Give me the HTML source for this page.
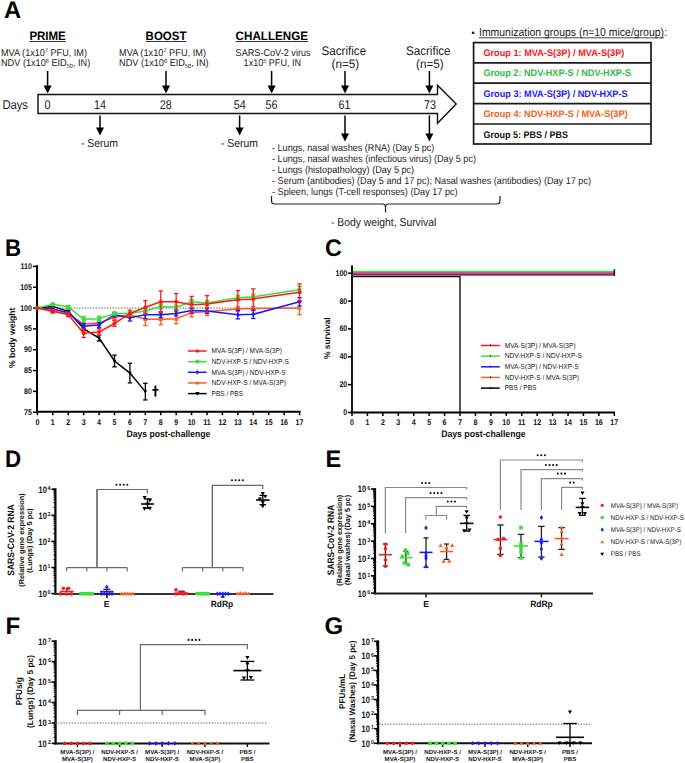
<!DOCTYPE html>
<html><head><meta charset="utf-8"><style>
html,body{margin:0;padding:0;background:#fff;}
svg{display:block;font-family:"Liberation Sans",sans-serif;text-rendering:geometricPrecision;}
</style></head><body>
<svg width="685" height="763" viewBox="0 0 685 763">
<rect width="685" height="763" fill="#fff"/>
<text x="0" y="0" transform="translate(3.9,17.7) scale(0.99,1)" font-size="24.00" font-weight="bold" text-anchor="start" fill="#000" >A</text>
<text x="29.4" y="40" font-size="12.19" font-weight="bold" text-anchor="start" fill="#000" textLength="36.3" lengthAdjust="spacingAndGlyphs" >PRIME</text>
<line x1="29.4" y1="41.5" x2="65.69999999999999" y2="41.5" stroke="#333" stroke-width="1.0" />
<text x="145.6" y="40" font-size="12.19" font-weight="bold" text-anchor="start" fill="#000" textLength="40.8" lengthAdjust="spacingAndGlyphs" >BOOST</text>
<line x1="145.6" y1="41.5" x2="186.39999999999998" y2="41.5" stroke="#333" stroke-width="1.0" />
<text x="235.6" y="40" font-size="12.19" font-weight="bold" text-anchor="start" fill="#000" textLength="72.4" lengthAdjust="spacingAndGlyphs" >CHALLENGE</text>
<line x1="235.6" y1="41.5" x2="308.0" y2="41.5" stroke="#333" stroke-width="1.0" />
<text x="1" y="55.6" font-size="9.90" text-anchor="start" fill="#222" textLength="86" lengthAdjust="spacingAndGlyphs" >MVA (1x10<tspan font-size="6" dy="-3.2">7</tspan><tspan dy="3.2"> PFU, IM)</tspan></text>
<text x="1" y="66" font-size="9.90" text-anchor="start" fill="#222" textLength="89.2" lengthAdjust="spacingAndGlyphs" >NDV (1x10<tspan font-size="6" dy="-3.2">6</tspan><tspan dy="3.2"> EID<tspan font-size="6" dy="2">50</tspan><tspan dy="-2">, IN)</tspan></text>
<text x="119" y="55.6" font-size="9.90" text-anchor="start" fill="#222" textLength="87" lengthAdjust="spacingAndGlyphs" >MVA (1x10<tspan font-size="6" dy="-3.2">7</tspan><tspan dy="3.2"> PFU, IM)</tspan></text>
<text x="119" y="66" font-size="9.90" text-anchor="start" fill="#222" textLength="89.6" lengthAdjust="spacingAndGlyphs" >NDV (1x10<tspan font-size="6" dy="-3.2">6</tspan><tspan dy="3.2"> EID<tspan font-size="6" dy="2">50</tspan><tspan dy="-2">, IN)</tspan></text>
<text x="235.6" y="55.6" font-size="9.90" text-anchor="start" fill="#222" textLength="75" lengthAdjust="spacingAndGlyphs" >SARS-CoV-2 virus</text>
<text x="243.6" y="66" font-size="9.90" text-anchor="start" fill="#222" textLength="57.4" lengthAdjust="spacingAndGlyphs" >1x10<tspan font-size="6" dy="-3.2">5</tspan><tspan dy="3.2"> PFU, IN</tspan></text>
<text x="321.6" y="55" font-size="12.54" text-anchor="start" fill="#222" textLength="44.5" lengthAdjust="spacingAndGlyphs" >Sacrifice</text>
<text x="331.6" y="68.2" font-size="12.32" text-anchor="start" fill="#222" textLength="27.6" lengthAdjust="spacingAndGlyphs" >(n=5)</text>
<text x="406" y="55" font-size="12.54" text-anchor="start" fill="#222" textLength="44.5" lengthAdjust="spacingAndGlyphs" >Sacrifice</text>
<text x="416" y="68.2" font-size="12.32" text-anchor="start" fill="#222" textLength="27.6" lengthAdjust="spacingAndGlyphs" >(n=5)</text>
<line x1="47.6" y1="71" x2="47.6" y2="86.5" stroke="#000" stroke-width="1.5" />
<polygon points="43.6,85.5 51.6,85.5 47.6,93.5" fill="#000"/>
<line x1="166" y1="71" x2="166" y2="86.5" stroke="#000" stroke-width="1.5" />
<polygon points="162,85.5 170,85.5 166,93.5" fill="#000"/>
<line x1="271.6" y1="71" x2="271.6" y2="86.5" stroke="#000" stroke-width="1.5" />
<polygon points="267.6,85.5 275.6,85.5 271.6,93.5" fill="#000"/>
<line x1="345" y1="71" x2="345" y2="86.5" stroke="#000" stroke-width="1.5" />
<polygon points="341,85.5 349,85.5 345,93.5" fill="#000"/>
<line x1="429.4" y1="71" x2="429.4" y2="86.5" stroke="#000" stroke-width="1.5" />
<polygon points="425.4,85.5 433.4,85.5 429.4,93.5" fill="#000"/>
<path d="M38,94.5 L437.5,94.5 L437.5,85.2 L456.2,104.1 L437.5,123.2 L437.5,113.4 L38,113.4 Z" fill="#fff" stroke="#111" stroke-width="1.45" stroke-linejoin="miter"/>
<text x="2.4" y="109.2" font-size="12.66" text-anchor="start" fill="#222" textLength="25.6" lengthAdjust="spacingAndGlyphs" >Days</text>
<text x="47.4" y="108.9" font-size="12.64" text-anchor="middle" fill="#222" textLength="6.01" lengthAdjust="spacingAndGlyphs" >0</text>
<text x="100" y="108.9" font-size="12.64" text-anchor="middle" fill="#222" textLength="12.01" lengthAdjust="spacingAndGlyphs" >14</text>
<text x="165.7" y="108.9" font-size="12.64" text-anchor="middle" fill="#222" textLength="12.01" lengthAdjust="spacingAndGlyphs" >28</text>
<text x="239.8" y="108.9" font-size="12.64" text-anchor="middle" fill="#222" textLength="12.01" lengthAdjust="spacingAndGlyphs" >54</text>
<text x="271.5" y="108.9" font-size="12.64" text-anchor="middle" fill="#222" textLength="12.01" lengthAdjust="spacingAndGlyphs" >56</text>
<text x="344.5" y="108.9" font-size="12.64" text-anchor="middle" fill="#222" textLength="12.01" lengthAdjust="spacingAndGlyphs" >61</text>
<text x="430" y="108.9" font-size="12.64" text-anchor="middle" fill="#222" textLength="12.01" lengthAdjust="spacingAndGlyphs" >73</text>
<line x1="100" y1="115.5" x2="100" y2="128.6" stroke="#000" stroke-width="1.5" />
<polygon points="96,127.6 104,127.6 100,135.6" fill="#000"/>
<line x1="239.6" y1="115.5" x2="239.6" y2="128.6" stroke="#000" stroke-width="1.5" />
<polygon points="235.6,127.6 243.6,127.6 239.6,135.6" fill="#000"/>
<line x1="345" y1="115.5" x2="345" y2="134.6" stroke="#000" stroke-width="1.5" />
<polygon points="341,133.6 349,133.6 345,141.6" fill="#000"/>
<line x1="429.4" y1="115.5" x2="429.4" y2="134.6" stroke="#000" stroke-width="1.5" />
<polygon points="425.4,133.6 433.4,133.6 429.4,141.6" fill="#000"/>
<text x="81" y="147.2" font-size="11.44" text-anchor="start" fill="#222" textLength="37" lengthAdjust="spacingAndGlyphs" >- Serum</text>
<text x="221" y="147.2" font-size="11.44" text-anchor="start" fill="#222" textLength="37" lengthAdjust="spacingAndGlyphs" >- Serum</text>
<text x="272" y="150.6" font-size="10.01" text-anchor="start" fill="#222" textLength="162.4" lengthAdjust="spacingAndGlyphs" >- Lungs, nasal washes (RNA) (Day 5 pc)</text>
<text x="272" y="161.6" font-size="10.01" text-anchor="start" fill="#222" textLength="204" lengthAdjust="spacingAndGlyphs" >- Lungs, nasal washes (infectious virus) (Day 5 pc)</text>
<text x="272" y="172.6" font-size="10.01" text-anchor="start" fill="#222" textLength="142.12" lengthAdjust="spacingAndGlyphs" >- Lungs (histopathology) (Day 5 pc)</text>
<text x="272" y="183.6" font-size="10.01" text-anchor="start" fill="#222" textLength="319" lengthAdjust="spacingAndGlyphs" >- Serum (antibodies) (Day 5 and 17 pc); Nasal washes (antibodies) (Day 17 pc)</text>
<text x="272" y="194.6" font-size="10.01" text-anchor="start" fill="#222" textLength="185.6" lengthAdjust="spacingAndGlyphs" >- Spleen, lungs (T-cell responses) (Day 17 pc)</text>
<path d="M271.5,196 L271.5,201 Q271.5,204 274.5,204 L382.5,204 Q385.5,204 385.5,207 L385.5,212.5 M385.5,207 Q385.5,204 388.5,204 L497,204 Q500,204 500,201 L500,196" stroke="#222" stroke-width="1.2" fill="none" />
<text x="331" y="226.3" font-size="11.38" text-anchor="start" fill="#222" textLength="105.3" lengthAdjust="spacingAndGlyphs" >- Body weight, Survival</text>
<text x="471.5" y="36" font-size="9.90" text-anchor="start" fill="#000" textLength="3.15" lengthAdjust="spacingAndGlyphs" >&#8226;</text>
<text x="479" y="36" font-size="11.44" text-anchor="start" fill="#222" textLength="185" lengthAdjust="spacingAndGlyphs" >Immunization groups (n=10 mice/group)</text>
<text x="664.3" y="36" font-size="11.44" text-anchor="start" fill="#222" textLength="2.89" lengthAdjust="spacingAndGlyphs" >:</text>
<line x1="479" y1="37.8" x2="664" y2="37.8" stroke="#333" stroke-width="0.9" />
<rect x="473.6" y="42.6" width="177.4" height="101.4" fill="none" stroke="#1a1a1a" stroke-width="1.7"/>
<line x1="473.6" y1="62.8" x2="651" y2="62.8" stroke="#1a1a1a" stroke-width="1.7" />
<line x1="473.6" y1="83.2" x2="651" y2="83.2" stroke="#1a1a1a" stroke-width="1.7" />
<line x1="473.6" y1="103.6" x2="651" y2="103.6" stroke="#1a1a1a" stroke-width="1.7" />
<line x1="473.6" y1="124.0" x2="651" y2="124.0" stroke="#1a1a1a" stroke-width="1.7" />
<text x="483.4" y="56.0" font-size="9.65" font-weight="bold" text-anchor="start" fill="#ff1212" textLength="141" lengthAdjust="spacingAndGlyphs" >Group 1: MVA-S(3P) / MVA-S(3P)</text>
<text x="483.4" y="76.4" font-size="9.65" font-weight="bold" text-anchor="start" fill="#35b846" textLength="147.6" lengthAdjust="spacingAndGlyphs" >Group 2: NDV-HXP-S / NDV-HXP-S</text>
<text x="483.4" y="96.8" font-size="9.65" font-weight="bold" text-anchor="start" fill="#1c1cf2" textLength="144.2" lengthAdjust="spacingAndGlyphs" >Group 3: MVA-S(3P) / NDV-HXP-S</text>
<text x="483.4" y="117.19999999999999" font-size="9.65" font-weight="bold" text-anchor="start" fill="#f25f20" textLength="144.2" lengthAdjust="spacingAndGlyphs" >Group 4: NDV-HXP-S / MVA-S(3P)</text>
<text x="483.4" y="137.6" font-size="9.65" font-weight="bold" text-anchor="start" fill="#111" textLength="84.6" lengthAdjust="spacingAndGlyphs" >Group 5: PBS / PBS</text>
<text x="0" y="0" transform="translate(5.0,256) scale(0.93,1)" font-size="24.00" font-weight="bold" text-anchor="start" fill="#000" >B</text>
<line x1="37" y1="265.2" x2="37" y2="412.8" stroke="#000" stroke-width="2" />
<line x1="36" y1="411.8" x2="300.6" y2="411.8" stroke="#000" stroke-width="2" />
<line x1="33" y1="412.245" x2="37" y2="412.245" stroke="#000" stroke-width="1.5" />
<text x="32" y="414.745" font-size="8.24" font-weight="bold" text-anchor="end" fill="#111" textLength="7.9" lengthAdjust="spacingAndGlyphs" >75</text>
<line x1="33" y1="391.40999999999997" x2="37" y2="391.40999999999997" stroke="#000" stroke-width="1.5" />
<text x="32" y="393.90999999999997" font-size="8.24" font-weight="bold" text-anchor="end" fill="#111" textLength="7.9" lengthAdjust="spacingAndGlyphs" >80</text>
<line x1="33" y1="370.575" x2="37" y2="370.575" stroke="#000" stroke-width="1.5" />
<text x="32" y="373.075" font-size="8.24" font-weight="bold" text-anchor="end" fill="#111" textLength="7.9" lengthAdjust="spacingAndGlyphs" >85</text>
<line x1="33" y1="349.74" x2="37" y2="349.74" stroke="#000" stroke-width="1.5" />
<text x="32" y="352.24" font-size="8.24" font-weight="bold" text-anchor="end" fill="#111" textLength="7.9" lengthAdjust="spacingAndGlyphs" >90</text>
<line x1="33" y1="328.905" x2="37" y2="328.905" stroke="#000" stroke-width="1.5" />
<text x="32" y="331.405" font-size="8.24" font-weight="bold" text-anchor="end" fill="#111" textLength="7.9" lengthAdjust="spacingAndGlyphs" >95</text>
<line x1="33" y1="308.07" x2="37" y2="308.07" stroke="#000" stroke-width="1.5" />
<text x="32" y="310.57" font-size="8.24" font-weight="bold" text-anchor="end" fill="#111" textLength="11.84" lengthAdjust="spacingAndGlyphs" >100</text>
<line x1="33" y1="287.23499999999996" x2="37" y2="287.23499999999996" stroke="#000" stroke-width="1.5" />
<text x="32" y="289.73499999999996" font-size="8.24" font-weight="bold" text-anchor="end" fill="#111" textLength="11.84" lengthAdjust="spacingAndGlyphs" >105</text>
<line x1="33" y1="266.4" x2="37" y2="266.4" stroke="#000" stroke-width="1.5" />
<text x="32" y="268.9" font-size="8.24" font-weight="bold" text-anchor="end" fill="#111" textLength="11.45" lengthAdjust="spacingAndGlyphs" >110</text>
<line x1="37.4" y1="411.8" x2="37.4" y2="415.2" stroke="#000" stroke-width="1.5" />
<text x="37.4" y="424.8" font-size="8.24" font-weight="bold" text-anchor="middle" fill="#111" textLength="3.95" lengthAdjust="spacingAndGlyphs" >0</text>
<line x1="52.82" y1="411.8" x2="52.82" y2="415.2" stroke="#000" stroke-width="1.5" />
<text x="52.82" y="424.8" font-size="8.24" font-weight="bold" text-anchor="middle" fill="#111" textLength="3.95" lengthAdjust="spacingAndGlyphs" >1</text>
<line x1="68.24" y1="411.8" x2="68.24" y2="415.2" stroke="#000" stroke-width="1.5" />
<text x="68.24" y="424.8" font-size="8.24" font-weight="bold" text-anchor="middle" fill="#111" textLength="3.95" lengthAdjust="spacingAndGlyphs" >2</text>
<line x1="83.66" y1="411.8" x2="83.66" y2="415.2" stroke="#000" stroke-width="1.5" />
<text x="83.66" y="424.8" font-size="8.24" font-weight="bold" text-anchor="middle" fill="#111" textLength="3.95" lengthAdjust="spacingAndGlyphs" >3</text>
<line x1="99.08" y1="411.8" x2="99.08" y2="415.2" stroke="#000" stroke-width="1.5" />
<text x="99.08" y="424.8" font-size="8.24" font-weight="bold" text-anchor="middle" fill="#111" textLength="3.95" lengthAdjust="spacingAndGlyphs" >4</text>
<line x1="114.5" y1="411.8" x2="114.5" y2="415.2" stroke="#000" stroke-width="1.5" />
<text x="114.5" y="424.8" font-size="8.24" font-weight="bold" text-anchor="middle" fill="#111" textLength="3.95" lengthAdjust="spacingAndGlyphs" >5</text>
<line x1="129.92" y1="411.8" x2="129.92" y2="415.2" stroke="#000" stroke-width="1.5" />
<text x="129.92" y="424.8" font-size="8.24" font-weight="bold" text-anchor="middle" fill="#111" textLength="3.95" lengthAdjust="spacingAndGlyphs" >6</text>
<line x1="145.34" y1="411.8" x2="145.34" y2="415.2" stroke="#000" stroke-width="1.5" />
<text x="145.34" y="424.8" font-size="8.24" font-weight="bold" text-anchor="middle" fill="#111" textLength="3.95" lengthAdjust="spacingAndGlyphs" >7</text>
<line x1="160.76" y1="411.8" x2="160.76" y2="415.2" stroke="#000" stroke-width="1.5" />
<text x="160.76" y="424.8" font-size="8.24" font-weight="bold" text-anchor="middle" fill="#111" textLength="3.95" lengthAdjust="spacingAndGlyphs" >8</text>
<line x1="176.18" y1="411.8" x2="176.18" y2="415.2" stroke="#000" stroke-width="1.5" />
<text x="176.18" y="424.8" font-size="8.24" font-weight="bold" text-anchor="middle" fill="#111" textLength="3.95" lengthAdjust="spacingAndGlyphs" >9</text>
<line x1="191.6" y1="411.8" x2="191.6" y2="415.2" stroke="#000" stroke-width="1.5" />
<text x="191.6" y="424.8" font-size="8.24" font-weight="bold" text-anchor="middle" fill="#111" textLength="7.9" lengthAdjust="spacingAndGlyphs" >10</text>
<line x1="207.02" y1="411.8" x2="207.02" y2="415.2" stroke="#000" stroke-width="1.5" />
<text x="207.02" y="424.8" font-size="8.24" font-weight="bold" text-anchor="middle" fill="#111" textLength="7.5" lengthAdjust="spacingAndGlyphs" >11</text>
<line x1="222.44" y1="411.8" x2="222.44" y2="415.2" stroke="#000" stroke-width="1.5" />
<text x="222.44" y="424.8" font-size="8.24" font-weight="bold" text-anchor="middle" fill="#111" textLength="7.9" lengthAdjust="spacingAndGlyphs" >12</text>
<line x1="237.86" y1="411.8" x2="237.86" y2="415.2" stroke="#000" stroke-width="1.5" />
<text x="237.86" y="424.8" font-size="8.24" font-weight="bold" text-anchor="middle" fill="#111" textLength="7.9" lengthAdjust="spacingAndGlyphs" >13</text>
<line x1="253.28" y1="411.8" x2="253.28" y2="415.2" stroke="#000" stroke-width="1.5" />
<text x="253.28" y="424.8" font-size="8.24" font-weight="bold" text-anchor="middle" fill="#111" textLength="7.9" lengthAdjust="spacingAndGlyphs" >14</text>
<line x1="268.7" y1="411.8" x2="268.7" y2="415.2" stroke="#000" stroke-width="1.5" />
<text x="268.7" y="424.8" font-size="8.24" font-weight="bold" text-anchor="middle" fill="#111" textLength="7.9" lengthAdjust="spacingAndGlyphs" >15</text>
<line x1="284.12" y1="411.8" x2="284.12" y2="415.2" stroke="#000" stroke-width="1.5" />
<text x="284.12" y="424.8" font-size="8.24" font-weight="bold" text-anchor="middle" fill="#111" textLength="7.9" lengthAdjust="spacingAndGlyphs" >16</text>
<line x1="299.53999999999996" y1="411.8" x2="299.53999999999996" y2="415.2" stroke="#000" stroke-width="1.5" />
<text x="299.53999999999996" y="424.8" font-size="8.24" font-weight="bold" text-anchor="middle" fill="#111" textLength="7.9" lengthAdjust="spacingAndGlyphs" >17</text>
<text x="168.4" y="437.1" font-size="9.46" font-weight="bold" text-anchor="middle" fill="#111" textLength="84.0" lengthAdjust="spacingAndGlyphs" >Days post-challenge</text>
<text x="0" y="0" font-size="8.66" font-weight="bold" fill="#111" text-anchor="middle" transform="translate(14.6,337.8) rotate(-90)">% body weight</text>
<line x1="37" y1="308.07" x2="300" y2="308.07" stroke="#555" stroke-width="1" stroke-dasharray="1.3,1.5"/>
<polyline points="37.40,308.07 52.82,306.40 68.24,311.40 83.66,328.70 99.08,338.07 114.50,360.99 129.92,373.08 145.34,391.62" fill="none" stroke="#000" stroke-width="1.5"/>
<polygon points="37.40,309.97 39.30,306.77 35.50,306.77" fill="#000"/>
<line x1="52.82" y1="305.56979999999993" x2="52.82" y2="307.23659999999995" stroke="#000" stroke-width="1.3" />
<line x1="50.62" y1="305.56979999999993" x2="55.02" y2="305.56979999999993" stroke="#000" stroke-width="1.3" />
<line x1="50.62" y1="307.23659999999995" x2="55.02" y2="307.23659999999995" stroke="#000" stroke-width="1.3" />
<polygon points="52.82,308.30 54.72,305.10 50.92,305.10" fill="#000"/>
<line x1="68.24" y1="310.15349999999995" x2="68.24" y2="312.65369999999996" stroke="#000" stroke-width="1.3" />
<line x1="66.03999999999999" y1="310.15349999999995" x2="70.44" y2="310.15349999999995" stroke="#000" stroke-width="1.3" />
<line x1="66.03999999999999" y1="312.65369999999996" x2="70.44" y2="312.65369999999996" stroke="#000" stroke-width="1.3" />
<polygon points="68.24,313.30 70.14,310.10 66.34,310.10" fill="#000"/>
<line x1="83.66" y1="326.61314999999996" x2="83.66" y2="330.78015" stroke="#000" stroke-width="1.3" />
<line x1="81.46" y1="326.61314999999996" x2="85.86" y2="326.61314999999996" stroke="#000" stroke-width="1.3" />
<line x1="81.46" y1="330.78015" x2="85.86" y2="330.78015" stroke="#000" stroke-width="1.3" />
<polygon points="83.66,330.60 85.56,327.40 81.76,327.40" fill="#000"/>
<line x1="99.08" y1="335.15549999999996" x2="99.08" y2="340.9893" stroke="#000" stroke-width="1.3" />
<line x1="96.88" y1="335.15549999999996" x2="101.28" y2="335.15549999999996" stroke="#000" stroke-width="1.3" />
<line x1="96.88" y1="340.9893" x2="101.28" y2="340.9893" stroke="#000" stroke-width="1.3" />
<polygon points="99.08,339.97 100.98,336.77 97.18,336.77" fill="#000"/>
<line x1="114.5" y1="355.15709999999996" x2="114.5" y2="366.8247" stroke="#000" stroke-width="1.3" />
<line x1="112.3" y1="355.15709999999996" x2="116.7" y2="355.15709999999996" stroke="#000" stroke-width="1.3" />
<line x1="112.3" y1="366.8247" x2="116.7" y2="366.8247" stroke="#000" stroke-width="1.3" />
<polygon points="114.50,362.89 116.40,359.69 112.60,359.69" fill="#000"/>
<line x1="129.92" y1="363.28274999999996" x2="129.92" y2="382.8676499999999" stroke="#000" stroke-width="1.3" />
<line x1="127.71999999999998" y1="363.28274999999996" x2="132.11999999999998" y2="363.28274999999996" stroke="#000" stroke-width="1.3" />
<line x1="127.71999999999998" y1="382.8676499999999" x2="132.11999999999998" y2="382.8676499999999" stroke="#000" stroke-width="1.3" />
<polygon points="129.92,374.98 131.82,371.78 128.02,371.78" fill="#000"/>
<line x1="145.34" y1="383.28434999999996" x2="145.34" y2="399.95234999999997" stroke="#000" stroke-width="1.3" />
<line x1="143.14000000000001" y1="383.28434999999996" x2="147.54" y2="383.28434999999996" stroke="#000" stroke-width="1.3" />
<line x1="143.14000000000001" y1="399.95234999999997" x2="147.54" y2="399.95234999999997" stroke="#000" stroke-width="1.3" />
<polygon points="145.34,393.52 147.24,390.32 143.44,390.32" fill="#000"/>
<polyline points="37.40,308.07 52.82,311.82 68.24,313.49 83.66,324.11 99.08,323.07 114.50,317.24 129.92,314.74 145.34,319.32 160.76,319.32 176.18,318.70 191.60,312.65 207.02,311.40 237.86,308.90 253.28,308.49 299.54,308.07" fill="none" stroke="#f85e22" stroke-width="1.5"/>
<polygon points="37.40,305.77 39.70,309.77 35.10,309.77" fill="#f85e22"/>
<line x1="52.82" y1="310.5702" x2="52.82" y2="313.0704" stroke="#f85e22" stroke-width="1.3" />
<line x1="50.62" y1="310.5702" x2="55.02" y2="310.5702" stroke="#f85e22" stroke-width="1.3" />
<line x1="50.62" y1="313.0704" x2="55.02" y2="313.0704" stroke="#f85e22" stroke-width="1.3" />
<polygon points="52.82,309.52 55.12,313.52 50.52,313.52" fill="#f85e22"/>
<line x1="68.24" y1="311.8202999999999" x2="68.24" y2="315.15389999999996" stroke="#f85e22" stroke-width="1.3" />
<line x1="66.03999999999999" y1="311.8202999999999" x2="70.44" y2="311.8202999999999" stroke="#f85e22" stroke-width="1.3" />
<line x1="66.03999999999999" y1="315.15389999999996" x2="70.44" y2="315.15389999999996" stroke="#f85e22" stroke-width="1.3" />
<polygon points="68.24,311.19 70.54,315.19 65.94,315.19" fill="#f85e22"/>
<line x1="83.66" y1="322.02944999999994" x2="83.66" y2="326.19644999999997" stroke="#f85e22" stroke-width="1.3" />
<line x1="81.46" y1="322.02944999999994" x2="85.86" y2="322.02944999999994" stroke="#f85e22" stroke-width="1.3" />
<line x1="81.46" y1="326.19644999999997" x2="85.86" y2="326.19644999999997" stroke="#f85e22" stroke-width="1.3" />
<polygon points="83.66,321.81 85.96,325.81 81.36,325.81" fill="#f85e22"/>
<line x1="99.08" y1="320.98769999999996" x2="99.08" y2="325.15469999999993" stroke="#f85e22" stroke-width="1.3" />
<line x1="96.88" y1="320.98769999999996" x2="101.28" y2="320.98769999999996" stroke="#f85e22" stroke-width="1.3" />
<line x1="96.88" y1="325.15469999999993" x2="101.28" y2="325.15469999999993" stroke="#f85e22" stroke-width="1.3" />
<polygon points="99.08,320.77 101.38,324.77 96.78,324.77" fill="#f85e22"/>
<line x1="114.5" y1="315.15389999999996" x2="114.5" y2="319.3209" stroke="#f85e22" stroke-width="1.3" />
<line x1="112.3" y1="315.15389999999996" x2="116.7" y2="315.15389999999996" stroke="#f85e22" stroke-width="1.3" />
<line x1="112.3" y1="319.3209" x2="116.7" y2="319.3209" stroke="#f85e22" stroke-width="1.3" />
<polygon points="114.50,314.94 116.80,318.94 112.20,318.94" fill="#f85e22"/>
<line x1="129.92" y1="311.8202999999999" x2="129.92" y2="317.65409999999997" stroke="#f85e22" stroke-width="1.3" />
<line x1="127.71999999999998" y1="311.8202999999999" x2="132.11999999999998" y2="311.8202999999999" stroke="#f85e22" stroke-width="1.3" />
<line x1="127.71999999999998" y1="317.65409999999997" x2="132.11999999999998" y2="317.65409999999997" stroke="#f85e22" stroke-width="1.3" />
<polygon points="129.92,312.44 132.22,316.44 127.62,316.44" fill="#f85e22"/>
<line x1="145.34" y1="313.0704" x2="145.34" y2="325.5714" stroke="#f85e22" stroke-width="1.3" />
<line x1="143.14000000000001" y1="313.0704" x2="147.54" y2="313.0704" stroke="#f85e22" stroke-width="1.3" />
<line x1="143.14000000000001" y1="325.5714" x2="147.54" y2="325.5714" stroke="#f85e22" stroke-width="1.3" />
<polygon points="145.34,317.02 147.64,321.02 143.04,321.02" fill="#f85e22"/>
<line x1="160.76" y1="313.9038" x2="160.76" y2="324.73799999999994" stroke="#f85e22" stroke-width="1.3" />
<line x1="158.56" y1="313.9038" x2="162.95999999999998" y2="313.9038" stroke="#f85e22" stroke-width="1.3" />
<line x1="158.56" y1="324.73799999999994" x2="162.95999999999998" y2="324.73799999999994" stroke="#f85e22" stroke-width="1.3" />
<polygon points="160.76,317.02 163.06,321.02 158.46,321.02" fill="#f85e22"/>
<line x1="176.18" y1="313.69544999999994" x2="176.18" y2="323.69624999999996" stroke="#f85e22" stroke-width="1.3" />
<line x1="173.98000000000002" y1="313.69544999999994" x2="178.38" y2="313.69544999999994" stroke="#f85e22" stroke-width="1.3" />
<line x1="173.98000000000002" y1="323.69624999999996" x2="178.38" y2="323.69624999999996" stroke="#f85e22" stroke-width="1.3" />
<polygon points="176.18,316.40 178.48,320.40 173.88,320.40" fill="#f85e22"/>
<line x1="191.6" y1="308.4866999999999" x2="191.6" y2="316.82069999999993" stroke="#f85e22" stroke-width="1.3" />
<line x1="189.4" y1="308.4866999999999" x2="193.79999999999998" y2="308.4866999999999" stroke="#f85e22" stroke-width="1.3" />
<line x1="189.4" y1="316.82069999999993" x2="193.79999999999998" y2="316.82069999999993" stroke="#f85e22" stroke-width="1.3" />
<polygon points="191.60,310.35 193.90,314.35 189.30,314.35" fill="#f85e22"/>
<line x1="207.02" y1="307.23659999999995" x2="207.02" y2="315.57059999999996" stroke="#f85e22" stroke-width="1.3" />
<line x1="204.82000000000002" y1="307.23659999999995" x2="209.22" y2="307.23659999999995" stroke="#f85e22" stroke-width="1.3" />
<line x1="204.82000000000002" y1="315.57059999999996" x2="209.22" y2="315.57059999999996" stroke="#f85e22" stroke-width="1.3" />
<polygon points="207.02,309.10 209.32,313.10 204.72,313.10" fill="#f85e22"/>
<line x1="237.86" y1="306.81989999999996" x2="237.86" y2="310.9869" stroke="#f85e22" stroke-width="1.3" />
<line x1="235.66000000000003" y1="306.81989999999996" x2="240.06" y2="306.81989999999996" stroke="#f85e22" stroke-width="1.3" />
<line x1="235.66000000000003" y1="310.9869" x2="240.06" y2="310.9869" stroke="#f85e22" stroke-width="1.3" />
<polygon points="237.86,306.60 240.16,310.60 235.56,310.60" fill="#f85e22"/>
<line x1="253.28" y1="306.40319999999997" x2="253.28" y2="310.57019999999994" stroke="#f85e22" stroke-width="1.3" />
<line x1="251.08" y1="306.40319999999997" x2="255.48" y2="306.40319999999997" stroke="#f85e22" stroke-width="1.3" />
<line x1="251.08" y1="310.57019999999994" x2="255.48" y2="310.57019999999994" stroke="#f85e22" stroke-width="1.3" />
<polygon points="253.28,306.19 255.58,310.19 250.98,310.19" fill="#f85e22"/>
<line x1="299.53999999999996" y1="301.4028" x2="299.53999999999996" y2="314.7372" stroke="#f85e22" stroke-width="1.3" />
<line x1="297.34" y1="301.4028" x2="301.73999999999995" y2="301.4028" stroke="#f85e22" stroke-width="1.3" />
<line x1="297.34" y1="314.7372" x2="301.73999999999995" y2="314.7372" stroke="#f85e22" stroke-width="1.3" />
<polygon points="299.54,305.77 301.84,309.77 297.24,309.77" fill="#f85e22"/>
<polyline points="37.40,308.07 52.82,308.90 68.24,312.65 83.66,326.20 99.08,324.74 114.50,314.74 129.92,317.65 145.34,314.74 160.76,314.74 176.18,313.49 191.60,310.57 207.02,310.99 237.86,314.74 253.28,314.32 299.54,301.82" fill="none" stroke="#1a1aff" stroke-width="1.5"/>
<polygon points="37.40,305.57 39.40,308.07 37.40,310.57 35.40,308.07" fill="#1a1aff"/>
<line x1="52.82" y1="307.6533" x2="52.82" y2="310.15349999999995" stroke="#1a1aff" stroke-width="1.3" />
<line x1="50.62" y1="307.6533" x2="55.02" y2="307.6533" stroke="#1a1aff" stroke-width="1.3" />
<line x1="50.62" y1="310.15349999999995" x2="55.02" y2="310.15349999999995" stroke="#1a1aff" stroke-width="1.3" />
<polygon points="52.82,306.40 54.82,308.90 52.82,311.40 50.82,308.90" fill="#1a1aff"/>
<line x1="68.24" y1="310.98689999999993" x2="68.24" y2="314.3205" stroke="#1a1aff" stroke-width="1.3" />
<line x1="66.03999999999999" y1="310.98689999999993" x2="70.44" y2="310.98689999999993" stroke="#1a1aff" stroke-width="1.3" />
<line x1="66.03999999999999" y1="314.3205" x2="70.44" y2="314.3205" stroke="#1a1aff" stroke-width="1.3" />
<polygon points="68.24,310.15 70.24,312.65 68.24,315.15 66.24,312.65" fill="#1a1aff"/>
<line x1="83.66" y1="323.69624999999996" x2="83.66" y2="328.6966499999999" stroke="#1a1aff" stroke-width="1.3" />
<line x1="81.46" y1="323.69624999999996" x2="85.86" y2="323.69624999999996" stroke="#1a1aff" stroke-width="1.3" />
<line x1="81.46" y1="328.6966499999999" x2="85.86" y2="328.6966499999999" stroke="#1a1aff" stroke-width="1.3" />
<polygon points="83.66,323.70 85.66,326.20 83.66,328.70 81.66,326.20" fill="#1a1aff"/>
<line x1="99.08" y1="322.2378" x2="99.08" y2="327.23819999999995" stroke="#1a1aff" stroke-width="1.3" />
<line x1="96.88" y1="322.2378" x2="101.28" y2="322.2378" stroke="#1a1aff" stroke-width="1.3" />
<line x1="96.88" y1="327.23819999999995" x2="101.28" y2="327.23819999999995" stroke="#1a1aff" stroke-width="1.3" />
<polygon points="99.08,322.24 101.08,324.74 99.08,327.24 97.08,324.74" fill="#1a1aff"/>
<line x1="114.5" y1="312.65369999999996" x2="114.5" y2="316.82069999999993" stroke="#1a1aff" stroke-width="1.3" />
<line x1="112.3" y1="312.65369999999996" x2="116.7" y2="312.65369999999996" stroke="#1a1aff" stroke-width="1.3" />
<line x1="112.3" y1="316.82069999999993" x2="116.7" y2="316.82069999999993" stroke="#1a1aff" stroke-width="1.3" />
<polygon points="114.50,312.24 116.50,314.74 114.50,317.24 112.50,314.74" fill="#1a1aff"/>
<line x1="129.92" y1="314.3205" x2="129.92" y2="320.98769999999996" stroke="#1a1aff" stroke-width="1.3" />
<line x1="127.71999999999998" y1="314.3205" x2="132.11999999999998" y2="314.3205" stroke="#1a1aff" stroke-width="1.3" />
<line x1="127.71999999999998" y1="320.98769999999996" x2="132.11999999999998" y2="320.98769999999996" stroke="#1a1aff" stroke-width="1.3" />
<polygon points="129.92,315.15 131.92,317.65 129.92,320.15 127.92,317.65" fill="#1a1aff"/>
<line x1="145.34" y1="310.98689999999993" x2="145.34" y2="318.48749999999995" stroke="#1a1aff" stroke-width="1.3" />
<line x1="143.14000000000001" y1="310.98689999999993" x2="147.54" y2="310.98689999999993" stroke="#1a1aff" stroke-width="1.3" />
<line x1="143.14000000000001" y1="318.48749999999995" x2="147.54" y2="318.48749999999995" stroke="#1a1aff" stroke-width="1.3" />
<polygon points="145.34,312.24 147.34,314.74 145.34,317.24 143.34,314.74" fill="#1a1aff"/>
<line x1="160.76" y1="311.8202999999999" x2="160.76" y2="317.65409999999997" stroke="#1a1aff" stroke-width="1.3" />
<line x1="158.56" y1="311.8202999999999" x2="162.95999999999998" y2="311.8202999999999" stroke="#1a1aff" stroke-width="1.3" />
<line x1="158.56" y1="317.65409999999997" x2="162.95999999999998" y2="317.65409999999997" stroke="#1a1aff" stroke-width="1.3" />
<polygon points="160.76,312.24 162.76,314.74 160.76,317.24 158.76,314.74" fill="#1a1aff"/>
<line x1="176.18" y1="310.9869" x2="176.18" y2="315.98729999999995" stroke="#1a1aff" stroke-width="1.3" />
<line x1="173.98000000000002" y1="310.9869" x2="178.38" y2="310.9869" stroke="#1a1aff" stroke-width="1.3" />
<line x1="173.98000000000002" y1="315.98729999999995" x2="178.38" y2="315.98729999999995" stroke="#1a1aff" stroke-width="1.3" />
<polygon points="176.18,310.99 178.18,313.49 176.18,315.99 174.18,313.49" fill="#1a1aff"/>
<line x1="191.6" y1="308.07" x2="191.6" y2="313.07039999999995" stroke="#1a1aff" stroke-width="1.3" />
<line x1="189.4" y1="308.07" x2="193.79999999999998" y2="308.07" stroke="#1a1aff" stroke-width="1.3" />
<line x1="189.4" y1="313.07039999999995" x2="193.79999999999998" y2="313.07039999999995" stroke="#1a1aff" stroke-width="1.3" />
<polygon points="191.60,308.07 193.60,310.57 191.60,313.07 189.60,310.57" fill="#1a1aff"/>
<line x1="207.02" y1="308.48670000000004" x2="207.02" y2="313.48709999999994" stroke="#1a1aff" stroke-width="1.3" />
<line x1="204.82000000000002" y1="308.48670000000004" x2="209.22" y2="308.48670000000004" stroke="#1a1aff" stroke-width="1.3" />
<line x1="204.82000000000002" y1="313.48709999999994" x2="209.22" y2="313.48709999999994" stroke="#1a1aff" stroke-width="1.3" />
<polygon points="207.02,308.49 209.02,310.99 207.02,313.49 205.02,310.99" fill="#1a1aff"/>
<line x1="237.86" y1="310.57019999999994" x2="237.86" y2="318.90419999999995" stroke="#1a1aff" stroke-width="1.3" />
<line x1="235.66000000000003" y1="310.57019999999994" x2="240.06" y2="310.57019999999994" stroke="#1a1aff" stroke-width="1.3" />
<line x1="235.66000000000003" y1="318.90419999999995" x2="240.06" y2="318.90419999999995" stroke="#1a1aff" stroke-width="1.3" />
<polygon points="237.86,312.24 239.86,314.74 237.86,317.24 235.86,314.74" fill="#1a1aff"/>
<line x1="253.28" y1="310.15349999999995" x2="253.28" y2="318.48749999999995" stroke="#1a1aff" stroke-width="1.3" />
<line x1="251.08" y1="310.15349999999995" x2="255.48" y2="310.15349999999995" stroke="#1a1aff" stroke-width="1.3" />
<line x1="251.08" y1="318.48749999999995" x2="255.48" y2="318.48749999999995" stroke="#1a1aff" stroke-width="1.3" />
<polygon points="253.28,311.82 255.28,314.32 253.28,316.82 251.28,314.32" fill="#1a1aff"/>
<line x1="299.53999999999996" y1="297.6525" x2="299.53999999999996" y2="305.9865" stroke="#1a1aff" stroke-width="1.3" />
<line x1="297.34" y1="297.6525" x2="301.73999999999995" y2="297.6525" stroke="#1a1aff" stroke-width="1.3" />
<line x1="297.34" y1="305.9865" x2="301.73999999999995" y2="305.9865" stroke="#1a1aff" stroke-width="1.3" />
<polygon points="299.54,299.32 301.54,301.82 299.54,304.32 297.54,301.82" fill="#1a1aff"/>
<polyline points="37.40,308.07 52.82,304.32 68.24,306.82 83.66,319.32 99.08,318.70 114.50,313.49 129.92,313.49 145.34,310.99 160.76,306.61 176.18,307.24 191.60,301.82 207.02,303.07 237.86,297.65 253.28,296.82 299.54,289.74" fill="none" stroke="#3ddd3d" stroke-width="1.5"/>
<rect x="35.40" y="306.07" width="4.0" height="4.0" fill="#3ddd3d"/>
<line x1="52.82" y1="303.0696" x2="52.82" y2="305.56979999999993" stroke="#3ddd3d" stroke-width="1.3" />
<line x1="50.62" y1="303.0696" x2="55.02" y2="303.0696" stroke="#3ddd3d" stroke-width="1.3" />
<line x1="50.62" y1="305.56979999999993" x2="55.02" y2="305.56979999999993" stroke="#3ddd3d" stroke-width="1.3" />
<rect x="50.82" y="302.32" width="4.0" height="4.0" fill="#3ddd3d"/>
<line x1="68.24" y1="305.5698" x2="68.24" y2="308.07" stroke="#3ddd3d" stroke-width="1.3" />
<line x1="66.03999999999999" y1="305.5698" x2="70.44" y2="305.5698" stroke="#3ddd3d" stroke-width="1.3" />
<line x1="66.03999999999999" y1="308.07" x2="70.44" y2="308.07" stroke="#3ddd3d" stroke-width="1.3" />
<rect x="66.24" y="304.82" width="4.0" height="4.0" fill="#3ddd3d"/>
<line x1="83.66" y1="316.404" x2="83.66" y2="322.2378" stroke="#3ddd3d" stroke-width="1.3" />
<line x1="81.46" y1="316.404" x2="85.86" y2="316.404" stroke="#3ddd3d" stroke-width="1.3" />
<line x1="81.46" y1="322.2378" x2="85.86" y2="322.2378" stroke="#3ddd3d" stroke-width="1.3" />
<rect x="81.66" y="317.32" width="4.0" height="4.0" fill="#3ddd3d"/>
<line x1="99.08" y1="316.19565" x2="99.08" y2="321.19604999999996" stroke="#3ddd3d" stroke-width="1.3" />
<line x1="96.88" y1="316.19565" x2="101.28" y2="316.19565" stroke="#3ddd3d" stroke-width="1.3" />
<line x1="96.88" y1="321.19604999999996" x2="101.28" y2="321.19604999999996" stroke="#3ddd3d" stroke-width="1.3" />
<rect x="97.08" y="316.70" width="4.0" height="4.0" fill="#3ddd3d"/>
<line x1="114.5" y1="311.8202999999999" x2="114.5" y2="315.15389999999996" stroke="#3ddd3d" stroke-width="1.3" />
<line x1="112.3" y1="311.8202999999999" x2="116.7" y2="311.8202999999999" stroke="#3ddd3d" stroke-width="1.3" />
<line x1="112.3" y1="315.15389999999996" x2="116.7" y2="315.15389999999996" stroke="#3ddd3d" stroke-width="1.3" />
<rect x="112.50" y="311.49" width="4.0" height="4.0" fill="#3ddd3d"/>
<line x1="129.92" y1="311.4036" x2="129.92" y2="315.57059999999996" stroke="#3ddd3d" stroke-width="1.3" />
<line x1="127.71999999999998" y1="311.4036" x2="132.11999999999998" y2="311.4036" stroke="#3ddd3d" stroke-width="1.3" />
<line x1="127.71999999999998" y1="315.57059999999996" x2="132.11999999999998" y2="315.57059999999996" stroke="#3ddd3d" stroke-width="1.3" />
<rect x="127.92" y="311.49" width="4.0" height="4.0" fill="#3ddd3d"/>
<line x1="145.34" y1="308.48670000000004" x2="145.34" y2="313.48709999999994" stroke="#3ddd3d" stroke-width="1.3" />
<line x1="143.14000000000001" y1="308.48670000000004" x2="147.54" y2="308.48670000000004" stroke="#3ddd3d" stroke-width="1.3" />
<line x1="143.14000000000001" y1="313.48709999999994" x2="147.54" y2="313.48709999999994" stroke="#3ddd3d" stroke-width="1.3" />
<rect x="143.34" y="308.99" width="4.0" height="4.0" fill="#3ddd3d"/>
<line x1="160.76" y1="304.11135" x2="160.76" y2="309.11175" stroke="#3ddd3d" stroke-width="1.3" />
<line x1="158.56" y1="304.11135" x2="162.95999999999998" y2="304.11135" stroke="#3ddd3d" stroke-width="1.3" />
<line x1="158.56" y1="309.11175" x2="162.95999999999998" y2="309.11175" stroke="#3ddd3d" stroke-width="1.3" />
<rect x="158.76" y="304.61" width="4.0" height="4.0" fill="#3ddd3d"/>
<line x1="176.18" y1="305.1531" x2="176.18" y2="309.32009999999997" stroke="#3ddd3d" stroke-width="1.3" />
<line x1="173.98000000000002" y1="305.1531" x2="178.38" y2="305.1531" stroke="#3ddd3d" stroke-width="1.3" />
<line x1="173.98000000000002" y1="309.32009999999997" x2="178.38" y2="309.32009999999997" stroke="#3ddd3d" stroke-width="1.3" />
<rect x="174.18" y="305.24" width="4.0" height="4.0" fill="#3ddd3d"/>
<line x1="191.6" y1="299.3193" x2="191.6" y2="304.31969999999995" stroke="#3ddd3d" stroke-width="1.3" />
<line x1="189.4" y1="299.3193" x2="193.79999999999998" y2="299.3193" stroke="#3ddd3d" stroke-width="1.3" />
<line x1="189.4" y1="304.31969999999995" x2="193.79999999999998" y2="304.31969999999995" stroke="#3ddd3d" stroke-width="1.3" />
<rect x="189.60" y="299.82" width="4.0" height="4.0" fill="#3ddd3d"/>
<line x1="207.02" y1="300.5694" x2="207.02" y2="305.56979999999993" stroke="#3ddd3d" stroke-width="1.3" />
<line x1="204.82000000000002" y1="300.5694" x2="209.22" y2="300.5694" stroke="#3ddd3d" stroke-width="1.3" />
<line x1="204.82000000000002" y1="305.56979999999993" x2="209.22" y2="305.56979999999993" stroke="#3ddd3d" stroke-width="1.3" />
<rect x="205.02" y="301.07" width="4.0" height="4.0" fill="#3ddd3d"/>
<line x1="237.86" y1="295.1523" x2="237.86" y2="300.1527" stroke="#3ddd3d" stroke-width="1.3" />
<line x1="235.66000000000003" y1="295.1523" x2="240.06" y2="295.1523" stroke="#3ddd3d" stroke-width="1.3" />
<line x1="235.66000000000003" y1="300.1527" x2="240.06" y2="300.1527" stroke="#3ddd3d" stroke-width="1.3" />
<rect x="235.86" y="295.65" width="4.0" height="4.0" fill="#3ddd3d"/>
<line x1="253.28" y1="293.90219999999994" x2="253.28" y2="299.736" stroke="#3ddd3d" stroke-width="1.3" />
<line x1="251.08" y1="293.90219999999994" x2="255.48" y2="293.90219999999994" stroke="#3ddd3d" stroke-width="1.3" />
<line x1="251.08" y1="299.736" x2="255.48" y2="299.736" stroke="#3ddd3d" stroke-width="1.3" />
<rect x="251.28" y="294.82" width="4.0" height="4.0" fill="#3ddd3d"/>
<line x1="299.53999999999996" y1="286.4016" x2="299.53999999999996" y2="293.06879999999995" stroke="#3ddd3d" stroke-width="1.3" />
<line x1="297.34" y1="286.4016" x2="301.73999999999995" y2="286.4016" stroke="#3ddd3d" stroke-width="1.3" />
<line x1="297.34" y1="293.06879999999995" x2="301.73999999999995" y2="293.06879999999995" stroke="#3ddd3d" stroke-width="1.3" />
<rect x="297.54" y="287.74" width="4.0" height="4.0" fill="#3ddd3d"/>
<polyline points="37.40,308.07 52.82,310.99 68.24,314.74 83.66,333.28 99.08,332.03 114.50,323.49 129.92,313.49 145.34,307.24 160.76,301.82 176.18,301.82 191.60,304.74 207.02,303.90 237.86,299.74 253.28,298.90 299.54,292.24" fill="none" stroke="#ff1a1a" stroke-width="1.5"/>
<circle cx="37.40" cy="308.07" r="2.0" fill="#ff1a1a"/>
<line x1="52.82" y1="309.32009999999997" x2="52.82" y2="312.6537" stroke="#ff1a1a" stroke-width="1.3" />
<line x1="50.62" y1="309.32009999999997" x2="55.02" y2="309.32009999999997" stroke="#ff1a1a" stroke-width="1.3" />
<line x1="50.62" y1="312.6537" x2="55.02" y2="312.6537" stroke="#ff1a1a" stroke-width="1.3" />
<circle cx="52.82" cy="310.99" r="2.0" fill="#ff1a1a"/>
<line x1="68.24" y1="312.65369999999996" x2="68.24" y2="316.82069999999993" stroke="#ff1a1a" stroke-width="1.3" />
<line x1="66.03999999999999" y1="312.65369999999996" x2="70.44" y2="312.65369999999996" stroke="#ff1a1a" stroke-width="1.3" />
<line x1="66.03999999999999" y1="316.82069999999993" x2="70.44" y2="316.82069999999993" stroke="#ff1a1a" stroke-width="1.3" />
<circle cx="68.24" cy="314.74" r="2.0" fill="#ff1a1a"/>
<line x1="83.66" y1="329.11334999999997" x2="83.66" y2="337.44735" stroke="#ff1a1a" stroke-width="1.3" />
<line x1="81.46" y1="329.11334999999997" x2="85.86" y2="329.11334999999997" stroke="#ff1a1a" stroke-width="1.3" />
<line x1="81.46" y1="337.44735" x2="85.86" y2="337.44735" stroke="#ff1a1a" stroke-width="1.3" />
<circle cx="83.66" cy="333.28" r="2.0" fill="#ff1a1a"/>
<line x1="99.08" y1="328.69665" x2="99.08" y2="335.36384999999996" stroke="#ff1a1a" stroke-width="1.3" />
<line x1="96.88" y1="328.69665" x2="101.28" y2="328.69665" stroke="#ff1a1a" stroke-width="1.3" />
<line x1="96.88" y1="335.36384999999996" x2="101.28" y2="335.36384999999996" stroke="#ff1a1a" stroke-width="1.3" />
<circle cx="99.08" cy="332.03" r="2.0" fill="#ff1a1a"/>
<line x1="114.5" y1="320.57099999999997" x2="114.5" y2="326.4048" stroke="#ff1a1a" stroke-width="1.3" />
<line x1="112.3" y1="320.57099999999997" x2="116.7" y2="320.57099999999997" stroke="#ff1a1a" stroke-width="1.3" />
<line x1="112.3" y1="326.4048" x2="116.7" y2="326.4048" stroke="#ff1a1a" stroke-width="1.3" />
<circle cx="114.50" cy="323.49" r="2.0" fill="#ff1a1a"/>
<line x1="129.92" y1="310.15349999999995" x2="129.92" y2="316.82069999999993" stroke="#ff1a1a" stroke-width="1.3" />
<line x1="127.71999999999998" y1="310.15349999999995" x2="132.11999999999998" y2="310.15349999999995" stroke="#ff1a1a" stroke-width="1.3" />
<line x1="127.71999999999998" y1="316.82069999999993" x2="132.11999999999998" y2="316.82069999999993" stroke="#ff1a1a" stroke-width="1.3" />
<circle cx="129.92" cy="313.49" r="2.0" fill="#ff1a1a"/>
<line x1="145.34" y1="300.5694" x2="145.34" y2="313.90379999999993" stroke="#ff1a1a" stroke-width="1.3" />
<line x1="143.14000000000001" y1="300.5694" x2="147.54" y2="300.5694" stroke="#ff1a1a" stroke-width="1.3" />
<line x1="143.14000000000001" y1="313.90379999999993" x2="147.54" y2="313.90379999999993" stroke="#ff1a1a" stroke-width="1.3" />
<circle cx="145.34" cy="307.24" r="2.0" fill="#ff1a1a"/>
<line x1="160.76" y1="290.9853" x2="160.76" y2="312.65369999999996" stroke="#ff1a1a" stroke-width="1.3" />
<line x1="158.56" y1="290.9853" x2="162.95999999999998" y2="290.9853" stroke="#ff1a1a" stroke-width="1.3" />
<line x1="158.56" y1="312.65369999999996" x2="162.95999999999998" y2="312.65369999999996" stroke="#ff1a1a" stroke-width="1.3" />
<circle cx="160.76" cy="301.82" r="2.0" fill="#ff1a1a"/>
<line x1="176.18" y1="293.4855" x2="176.18" y2="310.15349999999995" stroke="#ff1a1a" stroke-width="1.3" />
<line x1="173.98000000000002" y1="293.4855" x2="178.38" y2="293.4855" stroke="#ff1a1a" stroke-width="1.3" />
<line x1="173.98000000000002" y1="310.15349999999995" x2="178.38" y2="310.15349999999995" stroke="#ff1a1a" stroke-width="1.3" />
<circle cx="176.18" cy="301.82" r="2.0" fill="#ff1a1a"/>
<line x1="191.6" y1="296.4024" x2="191.6" y2="313.0704" stroke="#ff1a1a" stroke-width="1.3" />
<line x1="189.4" y1="296.4024" x2="193.79999999999998" y2="296.4024" stroke="#ff1a1a" stroke-width="1.3" />
<line x1="189.4" y1="313.0704" x2="193.79999999999998" y2="313.0704" stroke="#ff1a1a" stroke-width="1.3" />
<circle cx="191.60" cy="304.74" r="2.0" fill="#ff1a1a"/>
<line x1="207.02" y1="295.56899999999996" x2="207.02" y2="312.23699999999997" stroke="#ff1a1a" stroke-width="1.3" />
<line x1="204.82000000000002" y1="295.56899999999996" x2="209.22" y2="295.56899999999996" stroke="#ff1a1a" stroke-width="1.3" />
<line x1="204.82000000000002" y1="312.23699999999997" x2="209.22" y2="312.23699999999997" stroke="#ff1a1a" stroke-width="1.3" />
<circle cx="207.02" cy="303.90" r="2.0" fill="#ff1a1a"/>
<line x1="237.86" y1="290.56859999999995" x2="237.86" y2="308.9034" stroke="#ff1a1a" stroke-width="1.3" />
<line x1="235.66000000000003" y1="290.56859999999995" x2="240.06" y2="290.56859999999995" stroke="#ff1a1a" stroke-width="1.3" />
<line x1="235.66000000000003" y1="308.9034" x2="240.06" y2="308.9034" stroke="#ff1a1a" stroke-width="1.3" />
<circle cx="237.86" cy="299.74" r="2.0" fill="#ff1a1a"/>
<line x1="253.28" y1="288.9017999999999" x2="253.28" y2="308.9034" stroke="#ff1a1a" stroke-width="1.3" />
<line x1="251.08" y1="288.9017999999999" x2="255.48" y2="288.9017999999999" stroke="#ff1a1a" stroke-width="1.3" />
<line x1="251.08" y1="308.9034" x2="255.48" y2="308.9034" stroke="#ff1a1a" stroke-width="1.3" />
<circle cx="253.28" cy="298.90" r="2.0" fill="#ff1a1a"/>
<line x1="299.53999999999996" y1="283.90139999999997" x2="299.53999999999996" y2="300.5694" stroke="#ff1a1a" stroke-width="1.3" />
<line x1="297.34" y1="283.90139999999997" x2="301.73999999999995" y2="283.90139999999997" stroke="#ff1a1a" stroke-width="1.3" />
<line x1="297.34" y1="300.5694" x2="301.73999999999995" y2="300.5694" stroke="#ff1a1a" stroke-width="1.3" />
<circle cx="299.54" cy="292.24" r="2.0" fill="#ff1a1a"/>
<line x1="155.4" y1="385.6" x2="155.4" y2="396.6" stroke="#000" stroke-width="1.9" />
<line x1="152.3" y1="389.9" x2="158.5" y2="389.9" stroke="#000" stroke-width="1.6" />
<line x1="188" y1="351.0" x2="206.6" y2="351.0" stroke="#ff1a1a" stroke-width="1.5" />
<circle cx="197.40" cy="351.00" r="1.8" fill="#ff1a1a"/>
<text x="211.6" y="353.3" font-size="7.15" text-anchor="start" fill="#222" textLength="70.4" lengthAdjust="spacingAndGlyphs" >MVA-S(3P) / MVA-S(3P)</text>
<line x1="188" y1="361.65" x2="206.6" y2="361.65" stroke="#3ddd3d" stroke-width="1.5" />
<rect x="195.60" y="359.85" width="3.6" height="3.6" fill="#3ddd3d"/>
<text x="211.6" y="363.95" font-size="7.15" text-anchor="start" fill="#222" textLength="77.4" lengthAdjust="spacingAndGlyphs" >NDV-HXP-S / NDV-HXP-S</text>
<line x1="188" y1="372.3" x2="206.6" y2="372.3" stroke="#1a1aff" stroke-width="1.5" />
<polygon points="197.40,370.00 199.20,372.30 197.40,374.60 195.60,372.30" fill="#1a1aff"/>
<text x="211.6" y="374.6" font-size="7.15" text-anchor="start" fill="#222" textLength="74" lengthAdjust="spacingAndGlyphs" >MVA-S(3P) / NDV-HXP-S</text>
<line x1="188" y1="382.95" x2="206.6" y2="382.95" stroke="#f85e22" stroke-width="1.5" />
<polygon points="197.40,380.85 199.50,384.45 195.30,384.45" fill="#f85e22"/>
<text x="211.6" y="385.25" font-size="7.15" text-anchor="start" fill="#222" textLength="74.4" lengthAdjust="spacingAndGlyphs" >NDV-HXP-S / MVA-S(3P)</text>
<line x1="188" y1="393.6" x2="206.6" y2="393.6" stroke="#000" stroke-width="1.5" />
<polygon points="197.40,395.70 199.50,392.10 195.30,392.10" fill="#000"/>
<text x="211.6" y="395.90000000000003" font-size="7.15" text-anchor="start" fill="#222" textLength="31.4" lengthAdjust="spacingAndGlyphs" >PBS / PBS</text>
<text x="0" y="0" transform="translate(325.0,256.3) scale(0.97,1)" font-size="24.00" font-weight="bold" text-anchor="start" fill="#000" >C</text>
<line x1="352" y1="265.2" x2="352" y2="413.5" stroke="#000" stroke-width="1.8" />
<line x1="351" y1="412.5" x2="615" y2="412.5" stroke="#000" stroke-width="2" />
<line x1="348" y1="412.5" x2="352" y2="412.5" stroke="#000" stroke-width="1.5" />
<text x="347.3" y="415.0" font-size="8.24" font-weight="bold" text-anchor="end" fill="#111" textLength="3.95" lengthAdjust="spacingAndGlyphs" >0</text>
<line x1="348" y1="384.65" x2="352" y2="384.65" stroke="#000" stroke-width="1.5" />
<text x="347.3" y="387.15" font-size="8.24" font-weight="bold" text-anchor="end" fill="#111" textLength="7.9" lengthAdjust="spacingAndGlyphs" >20</text>
<line x1="348" y1="356.8" x2="352" y2="356.8" stroke="#000" stroke-width="1.5" />
<text x="347.3" y="359.3" font-size="8.24" font-weight="bold" text-anchor="end" fill="#111" textLength="7.9" lengthAdjust="spacingAndGlyphs" >40</text>
<line x1="348" y1="328.95" x2="352" y2="328.95" stroke="#000" stroke-width="1.5" />
<text x="347.3" y="331.45" font-size="8.24" font-weight="bold" text-anchor="end" fill="#111" textLength="7.9" lengthAdjust="spacingAndGlyphs" >60</text>
<line x1="348" y1="301.1" x2="352" y2="301.1" stroke="#000" stroke-width="1.5" />
<text x="347.3" y="303.6" font-size="8.24" font-weight="bold" text-anchor="end" fill="#111" textLength="7.9" lengthAdjust="spacingAndGlyphs" >80</text>
<line x1="348" y1="273.25" x2="352" y2="273.25" stroke="#000" stroke-width="1.5" />
<text x="347.3" y="275.75" font-size="8.24" font-weight="bold" text-anchor="end" fill="#111" textLength="11.84" lengthAdjust="spacingAndGlyphs" >100</text>
<line x1="352.0" y1="412.5" x2="352.0" y2="416" stroke="#000" stroke-width="1.5" />
<text x="352.0" y="424.8" font-size="8.24" font-weight="bold" text-anchor="middle" fill="#111" textLength="3.95" lengthAdjust="spacingAndGlyphs" >0</text>
<line x1="367.43" y1="412.5" x2="367.43" y2="416" stroke="#000" stroke-width="1.5" />
<text x="367.43" y="424.8" font-size="8.24" font-weight="bold" text-anchor="middle" fill="#111" textLength="3.95" lengthAdjust="spacingAndGlyphs" >1</text>
<line x1="382.86" y1="412.5" x2="382.86" y2="416" stroke="#000" stroke-width="1.5" />
<text x="382.86" y="424.8" font-size="8.24" font-weight="bold" text-anchor="middle" fill="#111" textLength="3.95" lengthAdjust="spacingAndGlyphs" >2</text>
<line x1="398.29" y1="412.5" x2="398.29" y2="416" stroke="#000" stroke-width="1.5" />
<text x="398.29" y="424.8" font-size="8.24" font-weight="bold" text-anchor="middle" fill="#111" textLength="3.95" lengthAdjust="spacingAndGlyphs" >3</text>
<line x1="413.72" y1="412.5" x2="413.72" y2="416" stroke="#000" stroke-width="1.5" />
<text x="413.72" y="424.8" font-size="8.24" font-weight="bold" text-anchor="middle" fill="#111" textLength="3.95" lengthAdjust="spacingAndGlyphs" >4</text>
<line x1="429.15" y1="412.5" x2="429.15" y2="416" stroke="#000" stroke-width="1.5" />
<text x="429.15" y="424.8" font-size="8.24" font-weight="bold" text-anchor="middle" fill="#111" textLength="3.95" lengthAdjust="spacingAndGlyphs" >5</text>
<line x1="444.58" y1="412.5" x2="444.58" y2="416" stroke="#000" stroke-width="1.5" />
<text x="444.58" y="424.8" font-size="8.24" font-weight="bold" text-anchor="middle" fill="#111" textLength="3.95" lengthAdjust="spacingAndGlyphs" >6</text>
<line x1="460.01" y1="412.5" x2="460.01" y2="416" stroke="#000" stroke-width="1.5" />
<text x="460.01" y="424.8" font-size="8.24" font-weight="bold" text-anchor="middle" fill="#111" textLength="3.95" lengthAdjust="spacingAndGlyphs" >7</text>
<line x1="475.44" y1="412.5" x2="475.44" y2="416" stroke="#000" stroke-width="1.5" />
<text x="475.44" y="424.8" font-size="8.24" font-weight="bold" text-anchor="middle" fill="#111" textLength="3.95" lengthAdjust="spacingAndGlyphs" >8</text>
<line x1="490.87" y1="412.5" x2="490.87" y2="416" stroke="#000" stroke-width="1.5" />
<text x="490.87" y="424.8" font-size="8.24" font-weight="bold" text-anchor="middle" fill="#111" textLength="3.95" lengthAdjust="spacingAndGlyphs" >9</text>
<line x1="506.3" y1="412.5" x2="506.3" y2="416" stroke="#000" stroke-width="1.5" />
<text x="506.3" y="424.8" font-size="8.24" font-weight="bold" text-anchor="middle" fill="#111" textLength="7.9" lengthAdjust="spacingAndGlyphs" >10</text>
<line x1="521.73" y1="412.5" x2="521.73" y2="416" stroke="#000" stroke-width="1.5" />
<text x="521.73" y="424.8" font-size="8.24" font-weight="bold" text-anchor="middle" fill="#111" textLength="7.5" lengthAdjust="spacingAndGlyphs" >11</text>
<line x1="537.16" y1="412.5" x2="537.16" y2="416" stroke="#000" stroke-width="1.5" />
<text x="537.16" y="424.8" font-size="8.24" font-weight="bold" text-anchor="middle" fill="#111" textLength="7.9" lengthAdjust="spacingAndGlyphs" >12</text>
<line x1="552.59" y1="412.5" x2="552.59" y2="416" stroke="#000" stroke-width="1.5" />
<text x="552.59" y="424.8" font-size="8.24" font-weight="bold" text-anchor="middle" fill="#111" textLength="7.9" lengthAdjust="spacingAndGlyphs" >13</text>
<line x1="568.02" y1="412.5" x2="568.02" y2="416" stroke="#000" stroke-width="1.5" />
<text x="568.02" y="424.8" font-size="8.24" font-weight="bold" text-anchor="middle" fill="#111" textLength="7.9" lengthAdjust="spacingAndGlyphs" >14</text>
<line x1="583.45" y1="412.5" x2="583.45" y2="416" stroke="#000" stroke-width="1.5" />
<text x="583.45" y="424.8" font-size="8.24" font-weight="bold" text-anchor="middle" fill="#111" textLength="7.9" lengthAdjust="spacingAndGlyphs" >15</text>
<line x1="598.88" y1="412.5" x2="598.88" y2="416" stroke="#000" stroke-width="1.5" />
<text x="598.88" y="424.8" font-size="8.24" font-weight="bold" text-anchor="middle" fill="#111" textLength="7.9" lengthAdjust="spacingAndGlyphs" >16</text>
<line x1="614.31" y1="412.5" x2="614.31" y2="416" stroke="#000" stroke-width="1.5" />
<text x="614.31" y="424.8" font-size="8.24" font-weight="bold" text-anchor="middle" fill="#111" textLength="7.9" lengthAdjust="spacingAndGlyphs" >17</text>
<text x="483.4" y="437.1" font-size="9.46" font-weight="bold" text-anchor="middle" fill="#111" textLength="84.4" lengthAdjust="spacingAndGlyphs" >Days post-challenge</text>
<text x="0" y="0" font-size="8.45" font-weight="bold" fill="#111" text-anchor="middle" transform="translate(329.6,338.2) rotate(-90)">% survival</text>
<path d="M353,276.6 L460,276.6 L460,412" stroke="#111" stroke-width="1.4" fill="none" />
<line x1="353" y1="271.5" x2="614.4" y2="271.5" stroke="#3ddd3d" stroke-width="1.35" />
<line x1="353" y1="272.9" x2="614.4" y2="272.9" stroke="#ff1a1a" stroke-width="1.35" />
<line x1="353" y1="274.2" x2="614.4" y2="274.2" stroke="#1a1aff" stroke-width="1.35" />
<line x1="353" y1="275.4" x2="614.4" y2="275.4" stroke="#f85e22" stroke-width="1.3" />
<line x1="614.4" y1="269.2" x2="614.4" y2="275.9" stroke="#000" stroke-width="1.4" />
<line x1="481" y1="345.5" x2="499.8" y2="345.5" stroke="#ff1a1a" stroke-width="1.5" />
<line x1="490.4" y1="344.2" x2="490.4" y2="345.8" stroke="#000" stroke-width="0.8" />
<text x="504.7" y="347.8" font-size="7.15" text-anchor="start" fill="#222" textLength="70.9" lengthAdjust="spacingAndGlyphs" >MVA-S(3P) / MVA-S(3P)</text>
<line x1="481" y1="356.15" x2="499.8" y2="356.15" stroke="#3ddd3d" stroke-width="1.5" />
<line x1="490.4" y1="354.84999999999997" x2="490.4" y2="356.45" stroke="#000" stroke-width="0.8" />
<text x="504.7" y="358.45" font-size="7.15" text-anchor="start" fill="#222" textLength="77.3" lengthAdjust="spacingAndGlyphs" >NDV-HXP-S / NDV-HXP-S</text>
<line x1="481" y1="366.8" x2="499.8" y2="366.8" stroke="#1a1aff" stroke-width="1.5" />
<line x1="490.4" y1="365.5" x2="490.4" y2="367.1" stroke="#000" stroke-width="0.8" />
<text x="504.7" y="369.1" font-size="7.15" text-anchor="start" fill="#222" textLength="73.9" lengthAdjust="spacingAndGlyphs" >MVA-S(3P) / NDV-HXP-S</text>
<line x1="481" y1="377.45" x2="499.8" y2="377.45" stroke="#f85e22" stroke-width="1.5" />
<line x1="490.4" y1="376.15" x2="490.4" y2="377.75" stroke="#000" stroke-width="0.8" />
<text x="504.7" y="379.75" font-size="7.15" text-anchor="start" fill="#222" textLength="74.3" lengthAdjust="spacingAndGlyphs" >NDV-HXP-S / MVA-S(3P)</text>
<line x1="481" y1="388.1" x2="499.8" y2="388.1" stroke="#000" stroke-width="1.5" />
<line x1="490.4" y1="386.8" x2="490.4" y2="388.40000000000003" stroke="#000" stroke-width="0.8" />
<text x="504.7" y="390.40000000000003" font-size="7.15" text-anchor="start" fill="#222" textLength="31.7" lengthAdjust="spacingAndGlyphs" >PBS / PBS</text>
<text x="0" y="0" transform="translate(5.0,467.2) scale(0.93,1)" font-size="24.00" font-weight="bold" text-anchor="start" fill="#000" >D</text>
<line x1="55.4" y1="488.30000000000007" x2="55.4" y2="594.6" stroke="#000" stroke-width="2.2" />
<line x1="51.4" y1="593.6" x2="55.4" y2="593.6" stroke="#000" stroke-width="1.6" />
<text x="38.60" y="597.00" font-size="9.30" font-weight="bold" fill="#111" textLength="8.3" lengthAdjust="spacingAndGlyphs">10</text>
<text x="47.40" y="594.30" font-size="5.8" font-weight="bold" fill="#222" textLength="3.0" lengthAdjust="spacingAndGlyphs">0</text>
<line x1="53.3" y1="585.7431171131701" x2="55.4" y2="585.7431171131701" stroke="#000" stroke-width="0.9" />
<line x1="53.3" y1="581.1471352518168" x2="55.4" y2="581.1471352518168" stroke="#000" stroke-width="0.9" />
<line x1="53.3" y1="577.8862342263402" x2="55.4" y2="577.8862342263402" stroke="#000" stroke-width="0.9" />
<line x1="53.3" y1="575.3568828868299" x2="55.4" y2="575.3568828868299" stroke="#000" stroke-width="0.9" />
<line x1="53.3" y1="573.2902523649869" x2="55.4" y2="573.2902523649869" stroke="#000" stroke-width="0.9" />
<line x1="53.3" y1="571.5429411556279" x2="55.4" y2="571.5429411556279" stroke="#000" stroke-width="0.9" />
<line x1="53.3" y1="570.0293513395103" x2="55.4" y2="570.0293513395103" stroke="#000" stroke-width="0.9" />
<line x1="53.3" y1="568.6942705036337" x2="55.4" y2="568.6942705036337" stroke="#000" stroke-width="0.9" />
<line x1="51.4" y1="567.5" x2="55.4" y2="567.5" stroke="#000" stroke-width="1.6" />
<text x="38.60" y="570.90" font-size="9.30" font-weight="bold" fill="#111" textLength="8.3" lengthAdjust="spacingAndGlyphs">10</text>
<text x="47.40" y="568.20" font-size="5.8" font-weight="bold" fill="#222" textLength="3.0" lengthAdjust="spacingAndGlyphs">1</text>
<line x1="53.3" y1="559.6431171131701" x2="55.4" y2="559.6431171131701" stroke="#000" stroke-width="0.9" />
<line x1="53.3" y1="555.0471352518168" x2="55.4" y2="555.0471352518168" stroke="#000" stroke-width="0.9" />
<line x1="53.3" y1="551.7862342263402" x2="55.4" y2="551.7862342263402" stroke="#000" stroke-width="0.9" />
<line x1="53.3" y1="549.2568828868299" x2="55.4" y2="549.2568828868299" stroke="#000" stroke-width="0.9" />
<line x1="53.3" y1="547.1902523649869" x2="55.4" y2="547.1902523649869" stroke="#000" stroke-width="0.9" />
<line x1="53.3" y1="545.4429411556279" x2="55.4" y2="545.4429411556279" stroke="#000" stroke-width="0.9" />
<line x1="53.3" y1="543.9293513395103" x2="55.4" y2="543.9293513395103" stroke="#000" stroke-width="0.9" />
<line x1="53.3" y1="542.5942705036337" x2="55.4" y2="542.5942705036337" stroke="#000" stroke-width="0.9" />
<line x1="51.4" y1="541.4" x2="55.4" y2="541.4" stroke="#000" stroke-width="1.6" />
<text x="38.60" y="544.80" font-size="9.30" font-weight="bold" fill="#111" textLength="8.3" lengthAdjust="spacingAndGlyphs">10</text>
<text x="47.40" y="542.10" font-size="5.8" font-weight="bold" fill="#222" textLength="3.0" lengthAdjust="spacingAndGlyphs">2</text>
<line x1="53.3" y1="533.5431171131701" x2="55.4" y2="533.5431171131701" stroke="#000" stroke-width="0.9" />
<line x1="53.3" y1="528.9471352518168" x2="55.4" y2="528.9471352518168" stroke="#000" stroke-width="0.9" />
<line x1="53.3" y1="525.6862342263402" x2="55.4" y2="525.6862342263402" stroke="#000" stroke-width="0.9" />
<line x1="53.3" y1="523.1568828868299" x2="55.4" y2="523.1568828868299" stroke="#000" stroke-width="0.9" />
<line x1="53.3" y1="521.0902523649869" x2="55.4" y2="521.0902523649869" stroke="#000" stroke-width="0.9" />
<line x1="53.3" y1="519.3429411556278" x2="55.4" y2="519.3429411556278" stroke="#000" stroke-width="0.9" />
<line x1="53.3" y1="517.8293513395103" x2="55.4" y2="517.8293513395103" stroke="#000" stroke-width="0.9" />
<line x1="53.3" y1="516.4942705036336" x2="55.4" y2="516.4942705036336" stroke="#000" stroke-width="0.9" />
<line x1="51.4" y1="515.3" x2="55.4" y2="515.3" stroke="#000" stroke-width="1.6" />
<text x="38.60" y="518.70" font-size="9.30" font-weight="bold" fill="#111" textLength="8.3" lengthAdjust="spacingAndGlyphs">10</text>
<text x="47.40" y="516.00" font-size="5.8" font-weight="bold" fill="#222" textLength="3.0" lengthAdjust="spacingAndGlyphs">3</text>
<line x1="53.3" y1="507.44311711317005" x2="55.4" y2="507.44311711317005" stroke="#000" stroke-width="0.9" />
<line x1="53.3" y1="502.8471352518168" x2="55.4" y2="502.8471352518168" stroke="#000" stroke-width="0.9" />
<line x1="53.3" y1="499.58623422634014" x2="55.4" y2="499.58623422634014" stroke="#000" stroke-width="0.9" />
<line x1="53.3" y1="497.05688288682984" x2="55.4" y2="497.05688288682984" stroke="#000" stroke-width="0.9" />
<line x1="53.3" y1="494.9902523649869" x2="55.4" y2="494.9902523649869" stroke="#000" stroke-width="0.9" />
<line x1="53.3" y1="493.2429411556279" x2="55.4" y2="493.2429411556279" stroke="#000" stroke-width="0.9" />
<line x1="53.3" y1="491.72935133951023" x2="55.4" y2="491.72935133951023" stroke="#000" stroke-width="0.9" />
<line x1="53.3" y1="490.39427050363355" x2="55.4" y2="490.39427050363355" stroke="#000" stroke-width="0.9" />
<line x1="51.4" y1="489.20000000000005" x2="55.4" y2="489.20000000000005" stroke="#000" stroke-width="1.6" />
<text x="38.60" y="492.60" font-size="9.30" font-weight="bold" fill="#111" textLength="8.3" lengthAdjust="spacingAndGlyphs">10</text>
<text x="47.40" y="489.90" font-size="5.8" font-weight="bold" fill="#222" textLength="3.0" lengthAdjust="spacingAndGlyphs">4</text>
<line x1="54" y1="593.9" x2="273.4" y2="593.9" stroke="#333" stroke-width="2" />
<line x1="107" y1="593.6" x2="107" y2="598" stroke="#222" stroke-width="1.5" />
<line x1="222.8" y1="593.6" x2="222.8" y2="598" stroke="#222" stroke-width="1.5" />
<text x="106.7" y="606.7" font-size="8.70" font-weight="bold" text-anchor="middle" fill="#111" >E</text>
<text x="221.9" y="606.9" font-size="9.03" font-weight="bold" text-anchor="middle" fill="#111" textLength="22.4" lengthAdjust="spacingAndGlyphs" >RdRp</text>
<text x="0" y="0" font-size="9.3" font-weight="bold" fill="#111" text-anchor="middle" textLength="71.5" lengthAdjust="spacingAndGlyphs" transform="translate(13.9,540) rotate(-90)">SARS-CoV-2 RNA</text>
<text x="0" y="0" font-size="7.3" font-weight="bold" fill="#111" text-anchor="middle" textLength="93.4" lengthAdjust="spacingAndGlyphs" transform="translate(24.3,540.1) rotate(-90)">(Relative gene expression)</text>
<text x="0" y="0" font-size="7.4" font-weight="bold" fill="#111" text-anchor="middle" textLength="64.4" lengthAdjust="spacingAndGlyphs" transform="translate(32.0,540.5) rotate(-90)">(Lungs) (Day 5 pc)</text>
<line x1="66.6" y1="567.6" x2="127.2" y2="567.6" stroke="#6a6a6a" stroke-width="1.2" />
<line x1="66.6" y1="567.6" x2="66.6" y2="571.2" stroke="#6a6a6a" stroke-width="1.2" />
<line x1="86.8" y1="567.6" x2="86.8" y2="571.2" stroke="#6a6a6a" stroke-width="1.2" />
<line x1="107" y1="567.6" x2="107" y2="571.2" stroke="#6a6a6a" stroke-width="1.2" />
<line x1="127.2" y1="567.6" x2="127.2" y2="571.2" stroke="#6a6a6a" stroke-width="1.2" />
<line x1="97" y1="567.6" x2="97" y2="489.4" stroke="#6a6a6a" stroke-width="1.2" />
<line x1="182.4" y1="567.6" x2="243" y2="567.6" stroke="#6a6a6a" stroke-width="1.2" />
<line x1="182.4" y1="567.6" x2="182.4" y2="571.2" stroke="#6a6a6a" stroke-width="1.2" />
<line x1="202.6" y1="567.6" x2="202.6" y2="571.2" stroke="#6a6a6a" stroke-width="1.2" />
<line x1="222.8" y1="567.6" x2="222.8" y2="571.2" stroke="#6a6a6a" stroke-width="1.2" />
<line x1="243" y1="567.6" x2="243" y2="571.2" stroke="#6a6a6a" stroke-width="1.2" />
<line x1="212.4" y1="567.6" x2="212.4" y2="485" stroke="#6a6a6a" stroke-width="1.2" />
<path d="M97,567.6 L97,489.5 L147.4,489.5 L147.4,493.5" stroke="#6a6a6a" stroke-width="1.2" fill="none" />
<path d="M212.4,567.6 L212.4,485.4 L262.7,485.4 L262.7,489" stroke="#6a6a6a" stroke-width="1.2" fill="none" />
<circle cx="116.55" cy="484.8" r="1.05" fill="#111"/>
<circle cx="120.15" cy="484.8" r="1.05" fill="#111"/>
<circle cx="123.75" cy="484.8" r="1.05" fill="#111"/>
<circle cx="127.35" cy="484.8" r="1.05" fill="#111"/>
<circle cx="232.00" cy="480.3" r="1.05" fill="#111"/>
<circle cx="235.60" cy="480.3" r="1.05" fill="#111"/>
<circle cx="239.20" cy="480.3" r="1.05" fill="#111"/>
<circle cx="242.80" cy="480.3" r="1.05" fill="#111"/>
<line x1="66.8" y1="588.4" x2="66.8" y2="591.5" stroke="#222" stroke-width="1.3" />
<line x1="65.8" y1="588.4" x2="67.8" y2="588.4" stroke="#222" stroke-width="1.3" />
<circle cx="60.60" cy="593.90" r="1.8" fill="#ff1a1a"/>
<circle cx="66.20" cy="594.00" r="1.8" fill="#ff1a1a"/>
<circle cx="71.40" cy="593.90" r="1.8" fill="#ff1a1a"/>
<circle cx="63.40" cy="588.30" r="1.8" fill="#ff1a1a"/>
<circle cx="68.60" cy="588.30" r="1.8" fill="#ff1a1a"/>
<line x1="59.9" y1="591.5" x2="73.7" y2="591.5" stroke="#ff1a1a" stroke-width="1.6" />
<line x1="86.6" y1="593.7" x2="86.6" y2="593.7" stroke="#222" stroke-width="1.3" />
<line x1="83.6" y1="593.7" x2="89.6" y2="593.7" stroke="#222" stroke-width="1.3" />
<line x1="83.6" y1="593.7" x2="89.6" y2="593.7" stroke="#222" stroke-width="1.3" />
<rect x="79.30" y="591.90" width="3.6" height="3.6" fill="#3ddd3d"/>
<rect x="82.10" y="591.90" width="3.6" height="3.6" fill="#3ddd3d"/>
<rect x="84.80" y="591.90" width="3.6" height="3.6" fill="#3ddd3d"/>
<rect x="87.50" y="591.90" width="3.6" height="3.6" fill="#3ddd3d"/>
<rect x="90.30" y="591.90" width="3.6" height="3.6" fill="#3ddd3d"/>
<line x1="79.6" y1="593.7" x2="93.6" y2="593.7" stroke="#3ddd3d" stroke-width="1.6" />
<line x1="106.8" y1="589.3" x2="106.8" y2="597.5" stroke="#222" stroke-width="1.3" />
<line x1="103.3" y1="589.3" x2="110.3" y2="589.3" stroke="#222" stroke-width="1.3" />
<polygon points="101.60,591.40 103.40,593.70 101.60,596.00 99.80,593.70" fill="#1a1aff"/>
<polygon points="104.20,591.40 106.00,593.70 104.20,596.00 102.40,593.70" fill="#1a1aff"/>
<polygon points="106.80,584.70 108.60,587.00 106.80,589.30 105.00,587.00" fill="#1a1aff"/>
<polygon points="109.40,591.40 111.20,593.70 109.40,596.00 107.60,593.70" fill="#1a1aff"/>
<polygon points="112.00,591.40 113.80,593.70 112.00,596.00 110.20,593.70" fill="#1a1aff"/>
<line x1="100.0" y1="591.6" x2="113.6" y2="591.6" stroke="#1a1aff" stroke-width="1.6" />
<line x1="127.2" y1="593.7" x2="127.2" y2="593.7" stroke="#222" stroke-width="1.3" />
<line x1="124.2" y1="593.7" x2="130.2" y2="593.7" stroke="#222" stroke-width="1.3" />
<line x1="124.2" y1="593.7" x2="130.2" y2="593.7" stroke="#222" stroke-width="1.3" />
<polygon points="121.70,591.60 123.80,595.20 119.60,595.20" fill="#f85e22"/>
<polygon points="124.50,591.60 126.60,595.20 122.40,595.20" fill="#f85e22"/>
<polygon points="127.20,591.60 129.30,595.20 125.10,595.20" fill="#f85e22"/>
<polygon points="129.90,591.60 132.00,595.20 127.80,595.20" fill="#f85e22"/>
<polygon points="132.70,591.60 134.80,595.20 130.60,595.20" fill="#f85e22"/>
<line x1="120.2" y1="593.7" x2="134.2" y2="593.7" stroke="#f85e22" stroke-width="1.6" />
<line x1="181.6" y1="591.3" x2="181.6" y2="593.9" stroke="#222" stroke-width="1.3" />
<line x1="178.4" y1="591.3" x2="184.79999999999998" y2="591.3" stroke="#222" stroke-width="1.3" />
<circle cx="176.00" cy="589.90" r="1.8" fill="#ff1a1a"/>
<circle cx="176.00" cy="593.90" r="1.8" fill="#ff1a1a"/>
<circle cx="179.90" cy="593.50" r="1.8" fill="#ff1a1a"/>
<circle cx="183.40" cy="594.00" r="1.8" fill="#ff1a1a"/>
<circle cx="186.80" cy="593.80" r="1.8" fill="#ff1a1a"/>
<line x1="177.6" y1="592.4" x2="185.6" y2="592.4" stroke="#ff1a1a" stroke-width="1.6" />
<line x1="202.6" y1="593.7" x2="202.6" y2="593.7" stroke="#222" stroke-width="1.3" />
<line x1="199.6" y1="593.7" x2="205.6" y2="593.7" stroke="#222" stroke-width="1.3" />
<line x1="199.6" y1="593.7" x2="205.6" y2="593.7" stroke="#222" stroke-width="1.3" />
<rect x="195.30" y="591.90" width="3.6" height="3.6" fill="#3ddd3d"/>
<rect x="198.10" y="591.90" width="3.6" height="3.6" fill="#3ddd3d"/>
<rect x="200.80" y="591.90" width="3.6" height="3.6" fill="#3ddd3d"/>
<rect x="203.50" y="591.90" width="3.6" height="3.6" fill="#3ddd3d"/>
<rect x="206.30" y="591.90" width="3.6" height="3.6" fill="#3ddd3d"/>
<line x1="195.6" y1="593.7" x2="209.6" y2="593.7" stroke="#3ddd3d" stroke-width="1.6" />
<line x1="222.8" y1="593.7" x2="222.8" y2="597" stroke="#222" stroke-width="1.3" />
<line x1="220.8" y1="593.7" x2="224.8" y2="593.7" stroke="#222" stroke-width="1.3" />
<line x1="220.8" y1="597" x2="224.8" y2="597" stroke="#222" stroke-width="1.3" />
<polygon points="217.30,591.40 219.10,593.70 217.30,596.00 215.50,593.70" fill="#1a1aff"/>
<polygon points="220.10,591.40 221.90,593.70 220.10,596.00 218.30,593.70" fill="#1a1aff"/>
<polygon points="222.80,591.40 224.60,593.70 222.80,596.00 221.00,593.70" fill="#1a1aff"/>
<polygon points="225.50,591.40 227.30,593.70 225.50,596.00 223.70,593.70" fill="#1a1aff"/>
<polygon points="228.30,591.40 230.10,593.70 228.30,596.00 226.50,593.70" fill="#1a1aff"/>
<line x1="216.8" y1="593.7" x2="228.8" y2="593.7" stroke="#1a1aff" stroke-width="1.6" />
<line x1="243" y1="593.7" x2="243" y2="593.7" stroke="#222" stroke-width="1.3" />
<line x1="241" y1="593.7" x2="245" y2="593.7" stroke="#222" stroke-width="1.3" />
<line x1="241" y1="593.7" x2="245" y2="593.7" stroke="#222" stroke-width="1.3" />
<polygon points="237.50,591.60 239.60,595.20 235.40,595.20" fill="#f85e22"/>
<polygon points="240.30,590.90 242.40,594.50 238.20,594.50" fill="#f85e22"/>
<polygon points="243.00,591.60 245.10,595.20 240.90,595.20" fill="#f85e22"/>
<polygon points="245.70,590.90 247.80,594.50 243.60,594.50" fill="#f85e22"/>
<polygon points="248.50,591.60 250.60,595.20 246.40,595.20" fill="#f85e22"/>
<line x1="237" y1="593.7" x2="249" y2="593.7" stroke="#f85e22" stroke-width="1.6" />
<line x1="147.5" y1="498.9" x2="147.5" y2="508.2" stroke="#000" stroke-width="1.3" />
<line x1="143.7" y1="498.9" x2="151.3" y2="498.9" stroke="#000" stroke-width="1.3" />
<line x1="143.7" y1="508.2" x2="151.3" y2="508.2" stroke="#000" stroke-width="1.3" />
<polygon points="144.60,499.70 146.70,496.10 142.50,496.10" fill="#000"/>
<polygon points="149.90,502.40 152.00,498.80 147.80,498.80" fill="#000"/>
<polygon points="147.50,506.10 149.60,502.50 145.40,502.50" fill="#000"/>
<polygon points="144.50,510.70 146.60,507.10 142.40,507.10" fill="#000"/>
<polygon points="149.80,510.30 151.90,506.70 147.70,506.70" fill="#000"/>
<line x1="141.1" y1="504" x2="153.9" y2="504" stroke="#000" stroke-width="1.6" />
<line x1="262.8" y1="495.4" x2="262.8" y2="504.7" stroke="#000" stroke-width="1.3" />
<line x1="259.5" y1="495.4" x2="266.1" y2="495.4" stroke="#000" stroke-width="1.3" />
<line x1="259.5" y1="504.7" x2="266.1" y2="504.7" stroke="#000" stroke-width="1.3" />
<polygon points="262.80,495.70 264.90,492.10 260.70,492.10" fill="#000"/>
<polygon points="265.30,498.60 267.40,495.00 263.20,495.00" fill="#000"/>
<polygon points="259.90,501.10 262.00,497.50 257.80,497.50" fill="#000"/>
<polygon points="262.80,504.60 264.90,501.00 260.70,501.00" fill="#000"/>
<polygon points="262.80,508.30 264.90,504.70 260.70,504.70" fill="#000"/>
<line x1="256.05" y1="500" x2="269.55" y2="500" stroke="#000" stroke-width="1.6" />
<text x="0" y="0" transform="translate(325.6,467.2) scale(0.98,1)" font-size="24.00" font-weight="bold" text-anchor="start" fill="#000" >E</text>
<line x1="375" y1="488.1400000000001" x2="375" y2="594.2" stroke="#000" stroke-width="2.2" />
<line x1="371" y1="593.2" x2="375" y2="593.2" stroke="#000" stroke-width="1.6" />
<text x="357.80" y="596.60" font-size="9.30" font-weight="bold" fill="#111" textLength="8.3" lengthAdjust="spacingAndGlyphs">10</text>
<text x="367.20" y="593.90" font-size="5.8" font-weight="bold" fill="#222" textLength="3.0" lengthAdjust="spacingAndGlyphs">0</text>
<line x1="372.9" y1="587.9741192752733" x2="375" y2="587.9741192752733" stroke="#000" stroke-width="0.9" />
<line x1="372.9" y1="584.9171750180667" x2="375" y2="584.9171750180667" stroke="#000" stroke-width="0.9" />
<line x1="372.9" y1="582.7482385505466" x2="375" y2="582.7482385505466" stroke="#000" stroke-width="0.9" />
<line x1="372.9" y1="581.0658807247268" x2="375" y2="581.0658807247268" stroke="#000" stroke-width="0.9" />
<line x1="372.9" y1="579.69129429334" x2="375" y2="579.69129429334" stroke="#000" stroke-width="0.9" />
<line x1="372.9" y1="578.5290980253526" x2="375" y2="578.5290980253526" stroke="#000" stroke-width="0.9" />
<line x1="372.9" y1="577.5223578258199" x2="375" y2="577.5223578258199" stroke="#000" stroke-width="0.9" />
<line x1="372.9" y1="576.6343500361334" x2="375" y2="576.6343500361334" stroke="#000" stroke-width="0.9" />
<line x1="371" y1="575.84" x2="375" y2="575.84" stroke="#000" stroke-width="1.6" />
<text x="357.80" y="579.24" font-size="9.30" font-weight="bold" fill="#111" textLength="8.3" lengthAdjust="spacingAndGlyphs">10</text>
<text x="367.20" y="576.54" font-size="5.8" font-weight="bold" fill="#222" textLength="3.0" lengthAdjust="spacingAndGlyphs">1</text>
<line x1="372.9" y1="570.6141192752733" x2="375" y2="570.6141192752733" stroke="#000" stroke-width="0.9" />
<line x1="372.9" y1="567.5571750180667" x2="375" y2="567.5571750180667" stroke="#000" stroke-width="0.9" />
<line x1="372.9" y1="565.3882385505466" x2="375" y2="565.3882385505466" stroke="#000" stroke-width="0.9" />
<line x1="372.9" y1="563.7058807247267" x2="375" y2="563.7058807247267" stroke="#000" stroke-width="0.9" />
<line x1="372.9" y1="562.33129429334" x2="375" y2="562.33129429334" stroke="#000" stroke-width="0.9" />
<line x1="372.9" y1="561.1690980253526" x2="375" y2="561.1690980253526" stroke="#000" stroke-width="0.9" />
<line x1="372.9" y1="560.1623578258199" x2="375" y2="560.1623578258199" stroke="#000" stroke-width="0.9" />
<line x1="372.9" y1="559.2743500361333" x2="375" y2="559.2743500361333" stroke="#000" stroke-width="0.9" />
<line x1="371" y1="558.48" x2="375" y2="558.48" stroke="#000" stroke-width="1.6" />
<text x="357.80" y="561.88" font-size="9.30" font-weight="bold" fill="#111" textLength="8.3" lengthAdjust="spacingAndGlyphs">10</text>
<text x="367.20" y="559.18" font-size="5.8" font-weight="bold" fill="#222" textLength="3.0" lengthAdjust="spacingAndGlyphs">2</text>
<line x1="372.9" y1="553.2541192752733" x2="375" y2="553.2541192752733" stroke="#000" stroke-width="0.9" />
<line x1="372.9" y1="550.1971750180667" x2="375" y2="550.1971750180667" stroke="#000" stroke-width="0.9" />
<line x1="372.9" y1="548.0282385505466" x2="375" y2="548.0282385505466" stroke="#000" stroke-width="0.9" />
<line x1="372.9" y1="546.3458807247267" x2="375" y2="546.3458807247267" stroke="#000" stroke-width="0.9" />
<line x1="372.9" y1="544.97129429334" x2="375" y2="544.97129429334" stroke="#000" stroke-width="0.9" />
<line x1="372.9" y1="543.8090980253526" x2="375" y2="543.8090980253526" stroke="#000" stroke-width="0.9" />
<line x1="372.9" y1="542.8023578258199" x2="375" y2="542.8023578258199" stroke="#000" stroke-width="0.9" />
<line x1="372.9" y1="541.9143500361333" x2="375" y2="541.9143500361333" stroke="#000" stroke-width="0.9" />
<line x1="371" y1="541.12" x2="375" y2="541.12" stroke="#000" stroke-width="1.6" />
<text x="357.80" y="544.52" font-size="9.30" font-weight="bold" fill="#111" textLength="8.3" lengthAdjust="spacingAndGlyphs">10</text>
<text x="367.20" y="541.82" font-size="5.8" font-weight="bold" fill="#222" textLength="3.0" lengthAdjust="spacingAndGlyphs">3</text>
<line x1="372.9" y1="535.8941192752733" x2="375" y2="535.8941192752733" stroke="#000" stroke-width="0.9" />
<line x1="372.9" y1="532.8371750180667" x2="375" y2="532.8371750180667" stroke="#000" stroke-width="0.9" />
<line x1="372.9" y1="530.6682385505466" x2="375" y2="530.6682385505466" stroke="#000" stroke-width="0.9" />
<line x1="372.9" y1="528.9858807247267" x2="375" y2="528.9858807247267" stroke="#000" stroke-width="0.9" />
<line x1="372.9" y1="527.6112942933399" x2="375" y2="527.6112942933399" stroke="#000" stroke-width="0.9" />
<line x1="372.9" y1="526.4490980253526" x2="375" y2="526.4490980253526" stroke="#000" stroke-width="0.9" />
<line x1="372.9" y1="525.4423578258198" x2="375" y2="525.4423578258198" stroke="#000" stroke-width="0.9" />
<line x1="372.9" y1="524.5543500361333" x2="375" y2="524.5543500361333" stroke="#000" stroke-width="0.9" />
<line x1="371" y1="523.76" x2="375" y2="523.76" stroke="#000" stroke-width="1.6" />
<text x="357.80" y="527.16" font-size="9.30" font-weight="bold" fill="#111" textLength="8.3" lengthAdjust="spacingAndGlyphs">10</text>
<text x="367.20" y="524.46" font-size="5.8" font-weight="bold" fill="#222" textLength="3.0" lengthAdjust="spacingAndGlyphs">4</text>
<line x1="372.9" y1="518.5341192752733" x2="375" y2="518.5341192752733" stroke="#000" stroke-width="0.9" />
<line x1="372.9" y1="515.4771750180666" x2="375" y2="515.4771750180666" stroke="#000" stroke-width="0.9" />
<line x1="372.9" y1="513.3082385505465" x2="375" y2="513.3082385505465" stroke="#000" stroke-width="0.9" />
<line x1="372.9" y1="511.6258807247267" x2="375" y2="511.6258807247267" stroke="#000" stroke-width="0.9" />
<line x1="372.9" y1="510.2512942933399" x2="375" y2="510.2512942933399" stroke="#000" stroke-width="0.9" />
<line x1="372.9" y1="509.0890980253525" x2="375" y2="509.0890980253525" stroke="#000" stroke-width="0.9" />
<line x1="372.9" y1="508.0823578258198" x2="375" y2="508.0823578258198" stroke="#000" stroke-width="0.9" />
<line x1="372.9" y1="507.1943500361333" x2="375" y2="507.1943500361333" stroke="#000" stroke-width="0.9" />
<line x1="371" y1="506.40000000000003" x2="375" y2="506.40000000000003" stroke="#000" stroke-width="1.6" />
<text x="357.80" y="509.80" font-size="9.30" font-weight="bold" fill="#111" textLength="8.3" lengthAdjust="spacingAndGlyphs">10</text>
<text x="367.20" y="507.10" font-size="5.8" font-weight="bold" fill="#222" textLength="3.0" lengthAdjust="spacingAndGlyphs">5</text>
<line x1="372.9" y1="501.1741192752733" x2="375" y2="501.1741192752733" stroke="#000" stroke-width="0.9" />
<line x1="372.9" y1="498.1171750180667" x2="375" y2="498.1171750180667" stroke="#000" stroke-width="0.9" />
<line x1="372.9" y1="495.9482385505466" x2="375" y2="495.9482385505466" stroke="#000" stroke-width="0.9" />
<line x1="372.9" y1="494.26588072472674" x2="375" y2="494.26588072472674" stroke="#000" stroke-width="0.9" />
<line x1="372.9" y1="492.89129429333997" x2="375" y2="492.89129429333997" stroke="#000" stroke-width="0.9" />
<line x1="372.9" y1="491.7290980253525" x2="375" y2="491.7290980253525" stroke="#000" stroke-width="0.9" />
<line x1="372.9" y1="490.72235782581987" x2="375" y2="490.72235782581987" stroke="#000" stroke-width="0.9" />
<line x1="372.9" y1="489.83435003613334" x2="375" y2="489.83435003613334" stroke="#000" stroke-width="0.9" />
<line x1="371" y1="489.0400000000001" x2="375" y2="489.0400000000001" stroke="#000" stroke-width="1.6" />
<text x="357.80" y="492.44" font-size="9.30" font-weight="bold" fill="#111" textLength="8.3" lengthAdjust="spacingAndGlyphs">10</text>
<text x="367.20" y="489.74" font-size="5.8" font-weight="bold" fill="#222" textLength="3.0" lengthAdjust="spacingAndGlyphs">6</text>
<line x1="373.6" y1="593.6" x2="593" y2="593.6" stroke="#1a1a1a" stroke-width="2" />
<line x1="426" y1="593.2" x2="426" y2="597.4" stroke="#222" stroke-width="1.5" />
<line x1="541.4" y1="593.2" x2="541.4" y2="597.4" stroke="#222" stroke-width="1.5" />
<text x="426.1" y="606.8" font-size="8.70" font-weight="bold" text-anchor="middle" fill="#111" >E</text>
<text x="541.5" y="607.2" font-size="9.03" font-weight="bold" text-anchor="middle" fill="#111" textLength="22.6" lengthAdjust="spacingAndGlyphs" >RdRp</text>
<text x="0" y="0" font-size="9.4" font-weight="bold" fill="#111" text-anchor="middle" textLength="70.4" lengthAdjust="spacingAndGlyphs" transform="translate(333.8,540) rotate(-90)">SARS-CoV-2 RNA</text>
<text x="0" y="0" font-size="7.5" font-weight="bold" fill="#111" text-anchor="middle" textLength="90.9" lengthAdjust="spacingAndGlyphs" transform="translate(342.3,540.2) rotate(-90)">(Relative gene expression)</text>
<text x="0" y="0" font-size="7.5" font-weight="bold" fill="#111" text-anchor="middle" textLength="90.2" lengthAdjust="spacingAndGlyphs" transform="translate(350.4,540) rotate(-90)">(Nasal washes) (Day 5 pc)</text>
<path d="M385.4,533.3 L385.4,487.5 L466.7,487.5 L466.7,489.6" stroke="#8a8a8a" stroke-width="1.2" fill="none" />
<path d="M405.6,533.3 L405.6,497.7 L466.7,497.7 L466.7,499.8" stroke="#8a8a8a" stroke-width="1.2" fill="none" />
<path d="M436.3,515.5 L436.3,506.4 L466.7,506.4 L466.7,508.4" stroke="#8a8a8a" stroke-width="1.2" fill="none" />
<path d="M425.8,519.6 L425.8,515.5 L446.6,515.5 L446.6,519.6" stroke="#8a8a8a" stroke-width="1.2" fill="none" />
<circle cx="422.10" cy="483.0" r="1.05" fill="#111"/>
<circle cx="425.70" cy="483.0" r="1.05" fill="#111"/>
<circle cx="429.30" cy="483.0" r="1.05" fill="#111"/>
<circle cx="430.60" cy="493.1" r="1.05" fill="#111"/>
<circle cx="434.20" cy="493.1" r="1.05" fill="#111"/>
<circle cx="437.80" cy="493.1" r="1.05" fill="#111"/>
<circle cx="441.40" cy="493.1" r="1.05" fill="#111"/>
<circle cx="447.80" cy="501.5" r="1.05" fill="#111"/>
<circle cx="451.40" cy="501.5" r="1.05" fill="#111"/>
<circle cx="455.00" cy="501.5" r="1.05" fill="#111"/>
<path d="M500.4,510 L500.4,460 L582.4,460 L582.4,462" stroke="#8a8a8a" stroke-width="1.2" fill="none" />
<path d="M521,510 L521,469.6 L582.4,469.6 L582.4,471.6" stroke="#8a8a8a" stroke-width="1.2" fill="none" />
<path d="M541.4,510 L541.4,478.6 L582.4,478.6 L582.4,480.6" stroke="#8a8a8a" stroke-width="1.2" fill="none" />
<path d="M561.6,510 L561.6,487.4 L582.4,487.4 L582.4,489.6" stroke="#8a8a8a" stroke-width="1.2" fill="none" />
<circle cx="537.70" cy="455.3" r="1.05" fill="#111"/>
<circle cx="541.30" cy="455.3" r="1.05" fill="#111"/>
<circle cx="544.90" cy="455.3" r="1.05" fill="#111"/>
<circle cx="545.90" cy="465.1" r="1.05" fill="#111"/>
<circle cx="549.50" cy="465.1" r="1.05" fill="#111"/>
<circle cx="553.10" cy="465.1" r="1.05" fill="#111"/>
<circle cx="556.70" cy="465.1" r="1.05" fill="#111"/>
<circle cx="557.80" cy="473.6" r="1.05" fill="#111"/>
<circle cx="561.40" cy="473.6" r="1.05" fill="#111"/>
<circle cx="565.00" cy="473.6" r="1.05" fill="#111"/>
<circle cx="570.10" cy="482.6" r="1.05" fill="#111"/>
<circle cx="573.70" cy="482.6" r="1.05" fill="#111"/>
<line x1="385.4" y1="544" x2="385.4" y2="565.9" stroke="#222" stroke-width="1.3" />
<line x1="382.9" y1="544" x2="387.9" y2="544" stroke="#222" stroke-width="1.3" />
<line x1="382.9" y1="565.9" x2="387.9" y2="565.9" stroke="#222" stroke-width="1.3" />
<circle cx="385.40" cy="544.20" r="1.8" fill="#ff1a1a"/>
<circle cx="385.40" cy="548.90" r="1.8" fill="#ff1a1a"/>
<circle cx="385.40" cy="560.00" r="1.8" fill="#ff1a1a"/>
<circle cx="385.40" cy="566.20" r="1.8" fill="#ff1a1a"/>
<line x1="378.9" y1="554.7" x2="391.9" y2="554.7" stroke="#ff1a1a" stroke-width="1.6" />
<line x1="405.9" y1="551.5" x2="405.9" y2="563.4" stroke="#222" stroke-width="1.3" />
<line x1="403.4" y1="551.5" x2="408.4" y2="551.5" stroke="#222" stroke-width="1.3" />
<line x1="403.4" y1="563.4" x2="408.4" y2="563.4" stroke="#222" stroke-width="1.3" />
<rect x="403.60" y="548.30" width="3.6" height="3.6" fill="#3ddd3d"/>
<rect x="405.90" y="551.80" width="3.6" height="3.6" fill="#3ddd3d"/>
<rect x="400.60" y="554.60" width="3.6" height="3.6" fill="#3ddd3d"/>
<rect x="402.60" y="561.20" width="3.6" height="3.6" fill="#3ddd3d"/>
<rect x="406.40" y="562.90" width="3.6" height="3.6" fill="#3ddd3d"/>
<line x1="399.4" y1="557.7" x2="412.4" y2="557.7" stroke="#3ddd3d" stroke-width="1.6" />
<line x1="426" y1="537.9" x2="426" y2="567.3" stroke="#222" stroke-width="1.3" />
<line x1="423.5" y1="537.9" x2="428.5" y2="537.9" stroke="#222" stroke-width="1.3" />
<line x1="423.5" y1="567.3" x2="428.5" y2="567.3" stroke="#222" stroke-width="1.3" />
<polygon points="426.00,525.60 427.80,527.90 426.00,530.20 424.20,527.90" fill="#1a1aff"/>
<polygon points="426.00,550.70 427.80,553.00 426.00,555.30 424.20,553.00" fill="#1a1aff"/>
<polygon points="426.00,553.70 427.80,556.00 426.00,558.30 424.20,556.00" fill="#1a1aff"/>
<polygon points="426.00,556.20 427.80,558.50 426.00,560.80 424.20,558.50" fill="#1a1aff"/>
<polygon points="426.00,564.10 427.80,566.40 426.00,568.70 424.20,566.40" fill="#1a1aff"/>
<line x1="419.5" y1="552.4" x2="432.5" y2="552.4" stroke="#1a1aff" stroke-width="1.6" />
<line x1="446.6" y1="544" x2="446.6" y2="559.4" stroke="#222" stroke-width="1.3" />
<line x1="444.1" y1="544" x2="449.1" y2="544" stroke="#222" stroke-width="1.3" />
<line x1="444.1" y1="559.4" x2="449.1" y2="559.4" stroke="#222" stroke-width="1.3" />
<polygon points="440.60,543.30 442.70,546.90 438.50,546.90" fill="#f85e22"/>
<polygon points="446.60,545.60 448.70,549.20 444.50,549.20" fill="#f85e22"/>
<polygon points="452.20,543.30 454.30,546.90 450.10,546.90" fill="#f85e22"/>
<polygon points="443.60,559.10 445.70,562.70 441.50,562.70" fill="#f85e22"/>
<polygon points="449.20,559.10 451.30,562.70 447.10,562.70" fill="#f85e22"/>
<line x1="440.1" y1="551.5" x2="453.1" y2="551.5" stroke="#f85e22" stroke-width="1.6" />
<line x1="466.7" y1="515.4" x2="466.7" y2="531.1" stroke="#000" stroke-width="1.3" />
<line x1="463.4" y1="515.4" x2="470.0" y2="515.4" stroke="#000" stroke-width="1.3" />
<line x1="463.4" y1="531.1" x2="470.0" y2="531.1" stroke="#000" stroke-width="1.3" />
<polygon points="466.70,513.80 468.80,510.20 464.60,510.20" fill="#000"/>
<polygon points="466.70,520.10 468.80,516.50 464.60,516.50" fill="#000"/>
<polygon points="466.70,525.50 468.80,521.90 464.60,521.90" fill="#000"/>
<polygon points="464.10,532.80 466.20,529.20 462.00,529.20" fill="#000"/>
<polygon points="469.50,532.10 471.60,528.50 467.40,528.50" fill="#000"/>
<line x1="459.9" y1="523.4" x2="473.5" y2="523.4" stroke="#000" stroke-width="1.6" />
<line x1="500.4" y1="525" x2="500.4" y2="554.4" stroke="#222" stroke-width="1.3" />
<line x1="497.2" y1="525" x2="503.59999999999997" y2="525" stroke="#222" stroke-width="1.3" />
<line x1="497.2" y1="554.4" x2="503.59999999999997" y2="554.4" stroke="#222" stroke-width="1.3" />
<circle cx="500.40" cy="517.00" r="1.8" fill="#ff1a1a"/>
<circle cx="498.00" cy="539.60" r="1.8" fill="#ff1a1a"/>
<circle cx="503.60" cy="538.60" r="1.8" fill="#ff1a1a"/>
<circle cx="500.40" cy="548.40" r="1.8" fill="#ff1a1a"/>
<circle cx="500.40" cy="555.60" r="1.8" fill="#ff1a1a"/>
<line x1="493.4" y1="539.6" x2="507.4" y2="539.6" stroke="#ff1a1a" stroke-width="1.6" />
<line x1="521" y1="534.4" x2="521" y2="557.6" stroke="#222" stroke-width="1.3" />
<line x1="517.8" y1="534.4" x2="524.2" y2="534.4" stroke="#222" stroke-width="1.3" />
<line x1="517.8" y1="557.6" x2="524.2" y2="557.6" stroke="#222" stroke-width="1.3" />
<rect x="519.20" y="525.80" width="3.6" height="3.6" fill="#3ddd3d"/>
<rect x="519.20" y="542.20" width="3.6" height="3.6" fill="#3ddd3d"/>
<rect x="519.20" y="545.80" width="3.6" height="3.6" fill="#3ddd3d"/>
<rect x="519.20" y="550.20" width="3.6" height="3.6" fill="#3ddd3d"/>
<rect x="519.20" y="556.20" width="3.6" height="3.6" fill="#3ddd3d"/>
<line x1="514" y1="546" x2="528" y2="546" stroke="#3ddd3d" stroke-width="1.6" />
<line x1="541.4" y1="526.4" x2="541.4" y2="557" stroke="#222" stroke-width="1.3" />
<line x1="538.1999999999999" y1="526.4" x2="544.6" y2="526.4" stroke="#222" stroke-width="1.3" />
<line x1="538.1999999999999" y1="557" x2="544.6" y2="557" stroke="#222" stroke-width="1.3" />
<polygon points="541.40,515.30 543.20,517.60 541.40,519.90 539.60,517.60" fill="#1a1aff"/>
<polygon points="541.40,537.30 543.20,539.60 541.40,541.90 539.60,539.60" fill="#1a1aff"/>
<polygon points="541.40,540.70 543.20,543.00 541.40,545.30 539.60,543.00" fill="#1a1aff"/>
<polygon points="541.40,546.70 543.20,549.00 541.40,551.30 539.60,549.00" fill="#1a1aff"/>
<polygon points="541.40,556.10 543.20,558.40 541.40,560.70 539.60,558.40" fill="#1a1aff"/>
<line x1="534.4" y1="541.4" x2="548.4" y2="541.4" stroke="#1a1aff" stroke-width="1.6" />
<line x1="561.6" y1="527.6" x2="561.6" y2="549.4" stroke="#222" stroke-width="1.3" />
<line x1="558.4" y1="527.6" x2="564.8000000000001" y2="527.6" stroke="#222" stroke-width="1.3" />
<line x1="558.4" y1="549.4" x2="564.8000000000001" y2="549.4" stroke="#222" stroke-width="1.3" />
<polygon points="561.60,525.50 563.70,529.10 559.50,529.10" fill="#f85e22"/>
<polygon points="561.60,529.50 563.70,533.10 559.50,533.10" fill="#f85e22"/>
<polygon points="561.60,535.90 563.70,539.50 559.50,539.50" fill="#f85e22"/>
<polygon points="561.60,541.90 563.70,545.50 559.50,545.50" fill="#f85e22"/>
<polygon points="561.60,552.30 563.70,555.90 559.50,555.90" fill="#f85e22"/>
<line x1="554.6" y1="538.6" x2="568.6" y2="538.6" stroke="#f85e22" stroke-width="1.6" />
<line x1="582.4" y1="498.4" x2="582.4" y2="515.4" stroke="#000" stroke-width="1.3" />
<line x1="579.1" y1="498.4" x2="585.6999999999999" y2="498.4" stroke="#000" stroke-width="1.3" />
<line x1="579.1" y1="515.4" x2="585.6999999999999" y2="515.4" stroke="#000" stroke-width="1.3" />
<polygon points="582.40,495.10 584.50,491.50 580.30,491.50" fill="#000"/>
<polygon points="582.40,505.80 584.50,502.20 580.30,502.20" fill="#000"/>
<polygon points="582.40,509.50 584.50,505.90 580.30,505.90" fill="#000"/>
<polygon points="579.60,515.70 581.70,512.10 577.50,512.10" fill="#000"/>
<polygon points="584.90,515.50 587.00,511.90 582.80,511.90" fill="#000"/>
<line x1="575.6999999999999" y1="507.4" x2="589.1" y2="507.4" stroke="#000" stroke-width="1.6" />
<circle cx="602.20" cy="505.30" r="1.6" fill="#ff1a1a"/>
<text x="610.8" y="507.5" font-size="6.82" text-anchor="start" fill="#222" textLength="67.2" lengthAdjust="spacingAndGlyphs" >MVA-S(3P) / MVA-S(3P)</text>
<rect x="600.60" y="515.90" width="3.2" height="3.2" fill="#3ddd3d"/>
<text x="610.8" y="519.7" font-size="6.82" text-anchor="start" fill="#222" textLength="73.2" lengthAdjust="spacingAndGlyphs" >NDV-HXP-S / NDV-HXP-S</text>
<polygon points="602.20,527.60 603.80,529.70 602.20,531.80 600.60,529.70" fill="#1a1aff"/>
<text x="610.8" y="531.9000000000001" font-size="6.82" text-anchor="start" fill="#222" textLength="70" lengthAdjust="spacingAndGlyphs" >MVA-S(3P) / NDV-HXP-S</text>
<polygon points="602.20,540.00 604.10,543.20 600.30,543.20" fill="#f85e22"/>
<text x="610.8" y="544.1" font-size="6.82" text-anchor="start" fill="#222" textLength="70.5" lengthAdjust="spacingAndGlyphs" >NDV-HXP-S / MVA-S(3P)</text>
<polygon points="602.20,556.00 604.10,552.80 600.30,552.80" fill="#000"/>
<text x="610.8" y="556.3000000000001" font-size="6.82" text-anchor="start" fill="#222" textLength="29.8" lengthAdjust="spacingAndGlyphs" >PBS / PBS</text>
<text x="0" y="0" transform="translate(5.6,633.6) scale(1.0,1)" font-size="24.00" font-weight="bold" text-anchor="start" fill="#000" >F</text>
<line x1="55.6" y1="640.25" x2="55.6" y2="744.4" stroke="#000" stroke-width="2.2" />
<line x1="51.6" y1="743.4" x2="55.6" y2="743.4" stroke="#000" stroke-width="1.6" />
<text x="38.30" y="746.80" font-size="9.30" font-weight="bold" fill="#111" textLength="8.3" lengthAdjust="spacingAndGlyphs">10</text>
<text x="48.10" y="744.10" font-size="5.8" font-weight="bold" fill="#222" textLength="3.0" lengthAdjust="spacingAndGlyphs">2</text>
<line x1="53.5" y1="737.2439365886715" x2="55.6" y2="737.2439365886715" stroke="#000" stroke-width="0.9" />
<line x1="53.5" y1="733.6428703409829" x2="55.6" y2="733.6428703409829" stroke="#000" stroke-width="0.9" />
<line x1="53.5" y1="731.0878731773431" x2="55.6" y2="731.0878731773431" stroke="#000" stroke-width="0.9" />
<line x1="53.5" y1="729.1060634113284" x2="55.6" y2="729.1060634113284" stroke="#000" stroke-width="0.9" />
<line x1="53.5" y1="727.4868069296544" x2="55.6" y2="727.4868069296544" stroke="#000" stroke-width="0.9" />
<line x1="53.5" y1="726.1177450817084" x2="55.6" y2="726.1177450817084" stroke="#000" stroke-width="0.9" />
<line x1="53.5" y1="724.9318097660147" x2="55.6" y2="724.9318097660147" stroke="#000" stroke-width="0.9" />
<line x1="53.5" y1="723.8857406819658" x2="55.6" y2="723.8857406819658" stroke="#000" stroke-width="0.9" />
<line x1="51.6" y1="722.9499999999999" x2="55.6" y2="722.9499999999999" stroke="#000" stroke-width="1.6" />
<text x="38.30" y="726.35" font-size="9.30" font-weight="bold" fill="#111" textLength="8.3" lengthAdjust="spacingAndGlyphs">10</text>
<text x="48.10" y="723.65" font-size="5.8" font-weight="bold" fill="#222" textLength="3.0" lengthAdjust="spacingAndGlyphs">3</text>
<line x1="53.5" y1="716.7939365886715" x2="55.6" y2="716.7939365886715" stroke="#000" stroke-width="0.9" />
<line x1="53.5" y1="713.1928703409828" x2="55.6" y2="713.1928703409828" stroke="#000" stroke-width="0.9" />
<line x1="53.5" y1="710.6378731773431" x2="55.6" y2="710.6378731773431" stroke="#000" stroke-width="0.9" />
<line x1="53.5" y1="708.6560634113283" x2="55.6" y2="708.6560634113283" stroke="#000" stroke-width="0.9" />
<line x1="53.5" y1="707.0368069296544" x2="55.6" y2="707.0368069296544" stroke="#000" stroke-width="0.9" />
<line x1="53.5" y1="705.6677450817084" x2="55.6" y2="705.6677450817084" stroke="#000" stroke-width="0.9" />
<line x1="53.5" y1="704.4818097660146" x2="55.6" y2="704.4818097660146" stroke="#000" stroke-width="0.9" />
<line x1="53.5" y1="703.4357406819657" x2="55.6" y2="703.4357406819657" stroke="#000" stroke-width="0.9" />
<line x1="51.6" y1="702.5" x2="55.6" y2="702.5" stroke="#000" stroke-width="1.6" />
<text x="38.30" y="705.90" font-size="9.30" font-weight="bold" fill="#111" textLength="8.3" lengthAdjust="spacingAndGlyphs">10</text>
<text x="48.10" y="703.20" font-size="5.8" font-weight="bold" fill="#222" textLength="3.0" lengthAdjust="spacingAndGlyphs">4</text>
<line x1="53.5" y1="696.3439365886716" x2="55.6" y2="696.3439365886716" stroke="#000" stroke-width="0.9" />
<line x1="53.5" y1="692.7428703409829" x2="55.6" y2="692.7428703409829" stroke="#000" stroke-width="0.9" />
<line x1="53.5" y1="690.1878731773431" x2="55.6" y2="690.1878731773431" stroke="#000" stroke-width="0.9" />
<line x1="53.5" y1="688.2060634113284" x2="55.6" y2="688.2060634113284" stroke="#000" stroke-width="0.9" />
<line x1="53.5" y1="686.5868069296545" x2="55.6" y2="686.5868069296545" stroke="#000" stroke-width="0.9" />
<line x1="53.5" y1="685.2177450817085" x2="55.6" y2="685.2177450817085" stroke="#000" stroke-width="0.9" />
<line x1="53.5" y1="684.0318097660147" x2="55.6" y2="684.0318097660147" stroke="#000" stroke-width="0.9" />
<line x1="53.5" y1="682.9857406819658" x2="55.6" y2="682.9857406819658" stroke="#000" stroke-width="0.9" />
<line x1="51.6" y1="682.05" x2="55.6" y2="682.05" stroke="#000" stroke-width="1.6" />
<text x="38.30" y="685.45" font-size="9.30" font-weight="bold" fill="#111" textLength="8.3" lengthAdjust="spacingAndGlyphs">10</text>
<text x="48.10" y="682.75" font-size="5.8" font-weight="bold" fill="#222" textLength="3.0" lengthAdjust="spacingAndGlyphs">5</text>
<line x1="53.5" y1="675.8939365886715" x2="55.6" y2="675.8939365886715" stroke="#000" stroke-width="0.9" />
<line x1="53.5" y1="672.2928703409829" x2="55.6" y2="672.2928703409829" stroke="#000" stroke-width="0.9" />
<line x1="53.5" y1="669.7378731773431" x2="55.6" y2="669.7378731773431" stroke="#000" stroke-width="0.9" />
<line x1="53.5" y1="667.7560634113283" x2="55.6" y2="667.7560634113283" stroke="#000" stroke-width="0.9" />
<line x1="53.5" y1="666.1368069296544" x2="55.6" y2="666.1368069296544" stroke="#000" stroke-width="0.9" />
<line x1="53.5" y1="664.7677450817084" x2="55.6" y2="664.7677450817084" stroke="#000" stroke-width="0.9" />
<line x1="53.5" y1="663.5818097660147" x2="55.6" y2="663.5818097660147" stroke="#000" stroke-width="0.9" />
<line x1="53.5" y1="662.5357406819658" x2="55.6" y2="662.5357406819658" stroke="#000" stroke-width="0.9" />
<line x1="51.6" y1="661.6" x2="55.6" y2="661.6" stroke="#000" stroke-width="1.6" />
<text x="38.30" y="665.00" font-size="9.30" font-weight="bold" fill="#111" textLength="8.3" lengthAdjust="spacingAndGlyphs">10</text>
<text x="48.10" y="662.30" font-size="5.8" font-weight="bold" fill="#222" textLength="3.0" lengthAdjust="spacingAndGlyphs">6</text>
<line x1="53.5" y1="655.4439365886716" x2="55.6" y2="655.4439365886716" stroke="#000" stroke-width="0.9" />
<line x1="53.5" y1="651.8428703409829" x2="55.6" y2="651.8428703409829" stroke="#000" stroke-width="0.9" />
<line x1="53.5" y1="649.2878731773432" x2="55.6" y2="649.2878731773432" stroke="#000" stroke-width="0.9" />
<line x1="53.5" y1="647.3060634113284" x2="55.6" y2="647.3060634113284" stroke="#000" stroke-width="0.9" />
<line x1="53.5" y1="645.6868069296545" x2="55.6" y2="645.6868069296545" stroke="#000" stroke-width="0.9" />
<line x1="53.5" y1="644.3177450817085" x2="55.6" y2="644.3177450817085" stroke="#000" stroke-width="0.9" />
<line x1="53.5" y1="643.1318097660147" x2="55.6" y2="643.1318097660147" stroke="#000" stroke-width="0.9" />
<line x1="53.5" y1="642.0857406819658" x2="55.6" y2="642.0857406819658" stroke="#000" stroke-width="0.9" />
<line x1="51.6" y1="641.15" x2="55.6" y2="641.15" stroke="#000" stroke-width="1.6" />
<text x="38.30" y="644.55" font-size="9.30" font-weight="bold" fill="#111" textLength="8.3" lengthAdjust="spacingAndGlyphs">10</text>
<text x="48.10" y="641.85" font-size="5.8" font-weight="bold" fill="#222" textLength="3.0" lengthAdjust="spacingAndGlyphs">7</text>
<line x1="54" y1="743.4" x2="269.5" y2="743.4" stroke="#111" stroke-width="2" />
<line x1="55" y1="723" x2="268.2" y2="723" stroke="#555" stroke-width="1" stroke-dasharray="1.3,1.5"/>
<text x="0" y="0" font-size="8.9" font-weight="bold" fill="#111" text-anchor="middle" textLength="27.9" lengthAdjust="spacingAndGlyphs" transform="translate(22.2,691.3) rotate(-90)">PFUs/g</text>
<text x="0" y="0" font-size="8.3" font-weight="bold" fill="#111" text-anchor="middle" textLength="73" lengthAdjust="spacingAndGlyphs" transform="translate(32.6,691.5) rotate(-90)">(Lungs) (Day 5 pc)</text>
<line x1="77.4" y1="743.4" x2="77.4" y2="747" stroke="#111" stroke-width="1.5" />
<line x1="119.6" y1="743.4" x2="119.6" y2="747" stroke="#111" stroke-width="1.5" />
<line x1="162.2" y1="743.4" x2="162.2" y2="747" stroke="#111" stroke-width="1.5" />
<line x1="205" y1="743.4" x2="205" y2="747" stroke="#111" stroke-width="1.5" />
<line x1="247.4" y1="743.4" x2="247.4" y2="747" stroke="#111" stroke-width="1.5" />
<path d="M77.4,715 L77.4,710.4 L205,710.4 L205,715 M119.6,710.4 L119.6,715 M162.2,710.4 L162.2,715" stroke="#6a6a6a" stroke-width="1.2" fill="none" />
<path d="M140.4,710.4 L140.4,644.6 L247.4,644.6 L247.4,649.3" stroke="#6a6a6a" stroke-width="1.2" fill="none" />
<circle cx="188.60" cy="639.9" r="1.05" fill="#111"/>
<circle cx="192.20" cy="639.9" r="1.05" fill="#111"/>
<circle cx="195.80" cy="639.9" r="1.05" fill="#111"/>
<circle cx="199.40" cy="639.9" r="1.05" fill="#111"/>
<circle cx="64.80" cy="743.40" r="1.8" fill="#ff1a1a"/>
<circle cx="71.10" cy="743.40" r="1.8" fill="#ff1a1a"/>
<circle cx="77.40" cy="743.40" r="1.8" fill="#ff1a1a"/>
<circle cx="83.70" cy="743.40" r="1.8" fill="#ff1a1a"/>
<circle cx="90.00" cy="743.40" r="1.8" fill="#ff1a1a"/>
<rect x="105.20" y="741.60" width="3.6" height="3.6" fill="#3ddd3d"/>
<rect x="111.50" y="741.60" width="3.6" height="3.6" fill="#3ddd3d"/>
<rect x="117.80" y="741.60" width="3.6" height="3.6" fill="#3ddd3d"/>
<rect x="124.10" y="741.60" width="3.6" height="3.6" fill="#3ddd3d"/>
<rect x="130.40" y="741.60" width="3.6" height="3.6" fill="#3ddd3d"/>
<polygon points="149.60,741.10 151.40,743.40 149.60,745.70 147.80,743.40" fill="#1a1aff"/>
<polygon points="155.90,741.10 157.70,743.40 155.90,745.70 154.10,743.40" fill="#1a1aff"/>
<polygon points="162.20,741.10 164.00,743.40 162.20,745.70 160.40,743.40" fill="#1a1aff"/>
<polygon points="168.50,741.10 170.30,743.40 168.50,745.70 166.70,743.40" fill="#1a1aff"/>
<polygon points="174.80,741.10 176.60,743.40 174.80,745.70 173.00,743.40" fill="#1a1aff"/>
<polygon points="192.40,741.30 194.50,744.90 190.30,744.90" fill="#f85e22"/>
<polygon points="198.70,741.30 200.80,744.90 196.60,744.90" fill="#f85e22"/>
<polygon points="205.00,741.30 207.10,744.90 202.90,744.90" fill="#f85e22"/>
<polygon points="211.30,741.30 213.40,744.90 209.20,744.90" fill="#f85e22"/>
<polygon points="217.60,741.30 219.70,744.90 215.50,744.90" fill="#f85e22"/>
<line x1="247.4" y1="661.4" x2="247.4" y2="680" stroke="#000" stroke-width="1.3" />
<line x1="240.4" y1="661.4" x2="254.4" y2="661.4" stroke="#000" stroke-width="1.3" />
<line x1="240.4" y1="680" x2="254.4" y2="680" stroke="#000" stroke-width="1.3" />
<polygon points="247.40,659.70 249.50,656.10 245.30,656.10" fill="#000"/>
<polygon points="247.40,666.10 249.50,662.50 245.30,662.50" fill="#000"/>
<polygon points="247.40,672.70 249.50,669.10 245.30,669.10" fill="#000"/>
<polygon points="243.90,680.10 246.00,676.50 241.80,676.50" fill="#000"/>
<polygon points="250.90,679.60 253.00,676.00 248.80,676.00" fill="#000"/>
<line x1="233.4" y1="670.6" x2="261.4" y2="670.6" stroke="#000" stroke-width="1.6" />
<text x="77.4" y="753.8" font-size="5.92" font-weight="bold" text-anchor="middle" fill="#1a1a1a" textLength="34.12" lengthAdjust="spacingAndGlyphs" >MVA-S(3P) /</text>
<text x="77.4" y="760.8" font-size="5.92" font-weight="bold" text-anchor="middle" fill="#1a1a1a" textLength="30.73" lengthAdjust="spacingAndGlyphs" >MVA-S(3P)</text>
<text x="119.6" y="753.8" font-size="5.92" font-weight="bold" text-anchor="middle" fill="#1a1a1a" textLength="36.61" lengthAdjust="spacingAndGlyphs" >NDV-HXP-S /</text>
<text x="119.6" y="760.8" font-size="5.92" font-weight="bold" text-anchor="middle" fill="#1a1a1a" textLength="33.22" lengthAdjust="spacingAndGlyphs" >NDV-HXP-S</text>
<text x="162.2" y="753.8" font-size="5.92" font-weight="bold" text-anchor="middle" fill="#1a1a1a" textLength="34.12" lengthAdjust="spacingAndGlyphs" >MVA-S(3P) /</text>
<text x="162.2" y="760.8" font-size="5.92" font-weight="bold" text-anchor="middle" fill="#1a1a1a" textLength="33.22" lengthAdjust="spacingAndGlyphs" >NDV-HXP-S</text>
<text x="205" y="753.8" font-size="5.92" font-weight="bold" text-anchor="middle" fill="#1a1a1a" textLength="36.61" lengthAdjust="spacingAndGlyphs" >NDV-HXP-S /</text>
<text x="205" y="760.8" font-size="5.92" font-weight="bold" text-anchor="middle" fill="#1a1a1a" textLength="30.73" lengthAdjust="spacingAndGlyphs" >MVA-S(3P)</text>
<text x="247.4" y="753.8" font-size="5.92" font-weight="bold" text-anchor="middle" fill="#1a1a1a" textLength="15.93" lengthAdjust="spacingAndGlyphs" >PBS /</text>
<text x="247.4" y="760.8" font-size="5.92" font-weight="bold" text-anchor="middle" fill="#1a1a1a" textLength="12.54" lengthAdjust="spacingAndGlyphs" >PBS</text>
<text x="0" y="0" transform="translate(324.5,633.6) scale(1.0,1)" font-size="24.00" font-weight="bold" text-anchor="start" fill="#000" >G</text>
<line x1="378.1" y1="640.41" x2="378.1" y2="744.3" stroke="#000" stroke-width="2.2" />
<line x1="374.1" y1="743.3" x2="378.1" y2="743.3" stroke="#000" stroke-width="1.6" />
<text x="361.50" y="746.70" font-size="9.30" font-weight="bold" fill="#111" textLength="8.3" lengthAdjust="spacingAndGlyphs">10</text>
<text x="371.00" y="744.00" font-size="5.8" font-weight="bold" fill="#222" textLength="3.0" lengthAdjust="spacingAndGlyphs">0</text>
<line x1="376.0" y1="738.9139929631757" x2="378.1" y2="738.9139929631757" stroke="#000" stroke-width="0.9" />
<line x1="376.0" y1="736.3483433187345" x2="378.1" y2="736.3483433187345" stroke="#000" stroke-width="0.9" />
<line x1="376.0" y1="734.5279859263516" x2="378.1" y2="734.5279859263516" stroke="#000" stroke-width="0.9" />
<line x1="376.0" y1="733.1160070368242" x2="378.1" y2="733.1160070368242" stroke="#000" stroke-width="0.9" />
<line x1="376.0" y1="731.9623362819102" x2="378.1" y2="731.9623362819102" stroke="#000" stroke-width="0.9" />
<line x1="376.0" y1="730.9869215569922" x2="378.1" y2="730.9869215569922" stroke="#000" stroke-width="0.9" />
<line x1="376.0" y1="730.1419788895273" x2="378.1" y2="730.1419788895273" stroke="#000" stroke-width="0.9" />
<line x1="376.0" y1="729.396686637469" x2="378.1" y2="729.396686637469" stroke="#000" stroke-width="0.9" />
<line x1="374.1" y1="728.7299999999999" x2="378.1" y2="728.7299999999999" stroke="#000" stroke-width="1.6" />
<text x="361.50" y="732.13" font-size="9.30" font-weight="bold" fill="#111" textLength="8.3" lengthAdjust="spacingAndGlyphs">10</text>
<text x="371.00" y="729.43" font-size="5.8" font-weight="bold" fill="#222" textLength="3.0" lengthAdjust="spacingAndGlyphs">1</text>
<line x1="376.0" y1="724.3439929631757" x2="378.1" y2="724.3439929631757" stroke="#000" stroke-width="0.9" />
<line x1="376.0" y1="721.7783433187344" x2="378.1" y2="721.7783433187344" stroke="#000" stroke-width="0.9" />
<line x1="376.0" y1="719.9579859263515" x2="378.1" y2="719.9579859263515" stroke="#000" stroke-width="0.9" />
<line x1="376.0" y1="718.5460070368241" x2="378.1" y2="718.5460070368241" stroke="#000" stroke-width="0.9" />
<line x1="376.0" y1="717.3923362819102" x2="378.1" y2="717.3923362819102" stroke="#000" stroke-width="0.9" />
<line x1="376.0" y1="716.4169215569922" x2="378.1" y2="716.4169215569922" stroke="#000" stroke-width="0.9" />
<line x1="376.0" y1="715.5719788895273" x2="378.1" y2="715.5719788895273" stroke="#000" stroke-width="0.9" />
<line x1="376.0" y1="714.8266866374689" x2="378.1" y2="714.8266866374689" stroke="#000" stroke-width="0.9" />
<line x1="374.1" y1="714.16" x2="378.1" y2="714.16" stroke="#000" stroke-width="1.6" />
<text x="361.50" y="717.56" font-size="9.30" font-weight="bold" fill="#111" textLength="8.3" lengthAdjust="spacingAndGlyphs">10</text>
<text x="371.00" y="714.86" font-size="5.8" font-weight="bold" fill="#222" textLength="3.0" lengthAdjust="spacingAndGlyphs">2</text>
<line x1="376.0" y1="709.7739929631757" x2="378.1" y2="709.7739929631757" stroke="#000" stroke-width="0.9" />
<line x1="376.0" y1="707.2083433187345" x2="378.1" y2="707.2083433187345" stroke="#000" stroke-width="0.9" />
<line x1="376.0" y1="705.3879859263516" x2="378.1" y2="705.3879859263516" stroke="#000" stroke-width="0.9" />
<line x1="376.0" y1="703.9760070368242" x2="378.1" y2="703.9760070368242" stroke="#000" stroke-width="0.9" />
<line x1="376.0" y1="702.8223362819102" x2="378.1" y2="702.8223362819102" stroke="#000" stroke-width="0.9" />
<line x1="376.0" y1="701.8469215569922" x2="378.1" y2="701.8469215569922" stroke="#000" stroke-width="0.9" />
<line x1="376.0" y1="701.0019788895273" x2="378.1" y2="701.0019788895273" stroke="#000" stroke-width="0.9" />
<line x1="376.0" y1="700.256686637469" x2="378.1" y2="700.256686637469" stroke="#000" stroke-width="0.9" />
<line x1="374.1" y1="699.5899999999999" x2="378.1" y2="699.5899999999999" stroke="#000" stroke-width="1.6" />
<text x="361.50" y="702.99" font-size="9.30" font-weight="bold" fill="#111" textLength="8.3" lengthAdjust="spacingAndGlyphs">10</text>
<text x="371.00" y="700.29" font-size="5.8" font-weight="bold" fill="#222" textLength="3.0" lengthAdjust="spacingAndGlyphs">3</text>
<line x1="376.0" y1="695.2039929631757" x2="378.1" y2="695.2039929631757" stroke="#000" stroke-width="0.9" />
<line x1="376.0" y1="692.6383433187344" x2="378.1" y2="692.6383433187344" stroke="#000" stroke-width="0.9" />
<line x1="376.0" y1="690.8179859263515" x2="378.1" y2="690.8179859263515" stroke="#000" stroke-width="0.9" />
<line x1="376.0" y1="689.4060070368241" x2="378.1" y2="689.4060070368241" stroke="#000" stroke-width="0.9" />
<line x1="376.0" y1="688.2523362819102" x2="378.1" y2="688.2523362819102" stroke="#000" stroke-width="0.9" />
<line x1="376.0" y1="687.2769215569922" x2="378.1" y2="687.2769215569922" stroke="#000" stroke-width="0.9" />
<line x1="376.0" y1="686.4319788895273" x2="378.1" y2="686.4319788895273" stroke="#000" stroke-width="0.9" />
<line x1="376.0" y1="685.6866866374689" x2="378.1" y2="685.6866866374689" stroke="#000" stroke-width="0.9" />
<line x1="374.1" y1="685.02" x2="378.1" y2="685.02" stroke="#000" stroke-width="1.6" />
<text x="361.50" y="688.42" font-size="9.30" font-weight="bold" fill="#111" textLength="8.3" lengthAdjust="spacingAndGlyphs">10</text>
<text x="371.00" y="685.72" font-size="5.8" font-weight="bold" fill="#222" textLength="3.0" lengthAdjust="spacingAndGlyphs">4</text>
<line x1="376.0" y1="680.6339929631757" x2="378.1" y2="680.6339929631757" stroke="#000" stroke-width="0.9" />
<line x1="376.0" y1="678.0683433187345" x2="378.1" y2="678.0683433187345" stroke="#000" stroke-width="0.9" />
<line x1="376.0" y1="676.2479859263516" x2="378.1" y2="676.2479859263516" stroke="#000" stroke-width="0.9" />
<line x1="376.0" y1="674.8360070368242" x2="378.1" y2="674.8360070368242" stroke="#000" stroke-width="0.9" />
<line x1="376.0" y1="673.6823362819102" x2="378.1" y2="673.6823362819102" stroke="#000" stroke-width="0.9" />
<line x1="376.0" y1="672.7069215569923" x2="378.1" y2="672.7069215569923" stroke="#000" stroke-width="0.9" />
<line x1="376.0" y1="671.8619788895273" x2="378.1" y2="671.8619788895273" stroke="#000" stroke-width="0.9" />
<line x1="376.0" y1="671.116686637469" x2="378.1" y2="671.116686637469" stroke="#000" stroke-width="0.9" />
<line x1="374.1" y1="670.4499999999999" x2="378.1" y2="670.4499999999999" stroke="#000" stroke-width="1.6" />
<text x="361.50" y="673.85" font-size="9.30" font-weight="bold" fill="#111" textLength="8.3" lengthAdjust="spacingAndGlyphs">10</text>
<text x="371.00" y="671.15" font-size="5.8" font-weight="bold" fill="#222" textLength="3.0" lengthAdjust="spacingAndGlyphs">5</text>
<line x1="376.0" y1="666.0639929631757" x2="378.1" y2="666.0639929631757" stroke="#000" stroke-width="0.9" />
<line x1="376.0" y1="663.4983433187344" x2="378.1" y2="663.4983433187344" stroke="#000" stroke-width="0.9" />
<line x1="376.0" y1="661.6779859263515" x2="378.1" y2="661.6779859263515" stroke="#000" stroke-width="0.9" />
<line x1="376.0" y1="660.2660070368241" x2="378.1" y2="660.2660070368241" stroke="#000" stroke-width="0.9" />
<line x1="376.0" y1="659.1123362819102" x2="378.1" y2="659.1123362819102" stroke="#000" stroke-width="0.9" />
<line x1="376.0" y1="658.1369215569922" x2="378.1" y2="658.1369215569922" stroke="#000" stroke-width="0.9" />
<line x1="376.0" y1="657.2919788895273" x2="378.1" y2="657.2919788895273" stroke="#000" stroke-width="0.9" />
<line x1="376.0" y1="656.546686637469" x2="378.1" y2="656.546686637469" stroke="#000" stroke-width="0.9" />
<line x1="374.1" y1="655.88" x2="378.1" y2="655.88" stroke="#000" stroke-width="1.6" />
<text x="361.50" y="659.28" font-size="9.30" font-weight="bold" fill="#111" textLength="8.3" lengthAdjust="spacingAndGlyphs">10</text>
<text x="371.00" y="656.58" font-size="5.8" font-weight="bold" fill="#222" textLength="3.0" lengthAdjust="spacingAndGlyphs">6</text>
<line x1="376.0" y1="651.4939929631757" x2="378.1" y2="651.4939929631757" stroke="#000" stroke-width="0.9" />
<line x1="376.0" y1="648.9283433187345" x2="378.1" y2="648.9283433187345" stroke="#000" stroke-width="0.9" />
<line x1="376.0" y1="647.1079859263516" x2="378.1" y2="647.1079859263516" stroke="#000" stroke-width="0.9" />
<line x1="376.0" y1="645.6960070368242" x2="378.1" y2="645.6960070368242" stroke="#000" stroke-width="0.9" />
<line x1="376.0" y1="644.5423362819103" x2="378.1" y2="644.5423362819103" stroke="#000" stroke-width="0.9" />
<line x1="376.0" y1="643.5669215569923" x2="378.1" y2="643.5669215569923" stroke="#000" stroke-width="0.9" />
<line x1="376.0" y1="642.7219788895273" x2="378.1" y2="642.7219788895273" stroke="#000" stroke-width="0.9" />
<line x1="376.0" y1="641.976686637469" x2="378.1" y2="641.976686637469" stroke="#000" stroke-width="0.9" />
<line x1="374.1" y1="641.31" x2="378.1" y2="641.31" stroke="#000" stroke-width="1.6" />
<text x="361.50" y="644.71" font-size="9.30" font-weight="bold" fill="#111" textLength="8.3" lengthAdjust="spacingAndGlyphs">10</text>
<text x="371.00" y="642.01" font-size="5.8" font-weight="bold" fill="#222" textLength="3.0" lengthAdjust="spacingAndGlyphs">7</text>
<line x1="378" y1="743.3" x2="592" y2="743.3" stroke="#111" stroke-width="2" />
<line x1="379" y1="724.2" x2="591.2" y2="724.2" stroke="#555" stroke-width="1" stroke-dasharray="1.3,1.5"/>
<text x="0" y="0" font-size="8.4" font-weight="bold" fill="#111" text-anchor="middle" textLength="35" lengthAdjust="spacingAndGlyphs" transform="translate(345.0,691.4) rotate(-90)">PFUs/mL</text>
<text x="0" y="0" font-size="8.2" font-weight="bold" fill="#111" text-anchor="middle" textLength="102" lengthAdjust="spacingAndGlyphs" transform="translate(355.4,691.4) rotate(-90)">(Nasal Washes) (Day 5 pc)</text>
<line x1="400" y1="743.3" x2="400" y2="747" stroke="#111" stroke-width="1.5" />
<line x1="442.6" y1="743.3" x2="442.6" y2="747" stroke="#111" stroke-width="1.5" />
<line x1="485" y1="743.3" x2="485" y2="747" stroke="#111" stroke-width="1.5" />
<line x1="527.7" y1="743.3" x2="527.7" y2="747" stroke="#111" stroke-width="1.5" />
<line x1="570" y1="743.3" x2="570" y2="747" stroke="#111" stroke-width="1.5" />
<circle cx="387.50" cy="743.30" r="1.8" fill="#ff1a1a"/>
<circle cx="393.75" cy="743.30" r="1.8" fill="#ff1a1a"/>
<circle cx="400.00" cy="743.30" r="1.8" fill="#ff1a1a"/>
<circle cx="406.25" cy="743.30" r="1.8" fill="#ff1a1a"/>
<circle cx="412.50" cy="743.30" r="1.8" fill="#ff1a1a"/>
<rect x="428.30" y="741.50" width="3.6" height="3.6" fill="#3ddd3d"/>
<rect x="434.55" y="741.50" width="3.6" height="3.6" fill="#3ddd3d"/>
<rect x="440.80" y="741.50" width="3.6" height="3.6" fill="#3ddd3d"/>
<rect x="447.05" y="741.50" width="3.6" height="3.6" fill="#3ddd3d"/>
<rect x="453.30" y="741.50" width="3.6" height="3.6" fill="#3ddd3d"/>
<polygon points="472.50,741.00 474.30,743.30 472.50,745.60 470.70,743.30" fill="#1a1aff"/>
<polygon points="478.75,741.00 480.55,743.30 478.75,745.60 476.95,743.30" fill="#1a1aff"/>
<polygon points="485.00,741.00 486.80,743.30 485.00,745.60 483.20,743.30" fill="#1a1aff"/>
<polygon points="491.25,741.00 493.05,743.30 491.25,745.60 489.45,743.30" fill="#1a1aff"/>
<polygon points="497.50,741.00 499.30,743.30 497.50,745.60 495.70,743.30" fill="#1a1aff"/>
<polygon points="515.20,741.20 517.30,744.80 513.10,744.80" fill="#f85e22"/>
<polygon points="521.45,741.20 523.55,744.80 519.35,744.80" fill="#f85e22"/>
<polygon points="527.70,741.20 529.80,744.80 525.60,744.80" fill="#f85e22"/>
<polygon points="533.95,741.20 536.05,744.80 531.85,744.80" fill="#f85e22"/>
<polygon points="540.20,741.20 542.30,744.80 538.10,744.80" fill="#f85e22"/>
<line x1="570" y1="723.5" x2="570" y2="743" stroke="#000" stroke-width="1.3" />
<line x1="563.2" y1="723.5" x2="576.8" y2="723.5" stroke="#000" stroke-width="1.3" />
<line x1="563.2" y1="743" x2="576.8" y2="743" stroke="#000" stroke-width="1.3" />
<polygon points="570.00,714.00 572.10,710.40 567.90,710.40" fill="#000"/>
<polygon points="559.60,745.10 561.70,741.50 557.50,741.50" fill="#000"/>
<polygon points="566.50,745.10 568.60,741.50 564.40,741.50" fill="#000"/>
<polygon points="573.50,745.10 575.60,741.50 571.40,741.50" fill="#000"/>
<polygon points="580.40,745.10 582.50,741.50 578.30,741.50" fill="#000"/>
<line x1="556" y1="737.3" x2="584" y2="737.3" stroke="#000" stroke-width="1.6" />
<text x="400" y="753.8" font-size="5.92" font-weight="bold" text-anchor="middle" fill="#1a1a1a" textLength="34.12" lengthAdjust="spacingAndGlyphs" >MVA-S(3P) /</text>
<text x="400" y="760.8" font-size="5.92" font-weight="bold" text-anchor="middle" fill="#1a1a1a" textLength="30.73" lengthAdjust="spacingAndGlyphs" >MVA-S(3P)</text>
<text x="442.6" y="753.8" font-size="5.92" font-weight="bold" text-anchor="middle" fill="#1a1a1a" textLength="36.61" lengthAdjust="spacingAndGlyphs" >NDV-HXP-S /</text>
<text x="442.6" y="760.8" font-size="5.92" font-weight="bold" text-anchor="middle" fill="#1a1a1a" textLength="33.22" lengthAdjust="spacingAndGlyphs" >NDV-HXP-S</text>
<text x="485" y="753.8" font-size="5.92" font-weight="bold" text-anchor="middle" fill="#1a1a1a" textLength="34.12" lengthAdjust="spacingAndGlyphs" >MVA-S(3P) /</text>
<text x="485" y="760.8" font-size="5.92" font-weight="bold" text-anchor="middle" fill="#1a1a1a" textLength="33.22" lengthAdjust="spacingAndGlyphs" >NDV-HXP-S</text>
<text x="527.7" y="753.8" font-size="5.92" font-weight="bold" text-anchor="middle" fill="#1a1a1a" textLength="36.61" lengthAdjust="spacingAndGlyphs" >NDV-HXP-S /</text>
<text x="527.7" y="760.8" font-size="5.92" font-weight="bold" text-anchor="middle" fill="#1a1a1a" textLength="30.73" lengthAdjust="spacingAndGlyphs" >MVA-S(3P)</text>
<text x="570" y="753.8" font-size="5.92" font-weight="bold" text-anchor="middle" fill="#1a1a1a" textLength="15.93" lengthAdjust="spacingAndGlyphs" >PBS /</text>
<text x="570" y="760.8" font-size="5.92" font-weight="bold" text-anchor="middle" fill="#1a1a1a" textLength="12.54" lengthAdjust="spacingAndGlyphs" >PBS</text>
</svg>
</body></html>
